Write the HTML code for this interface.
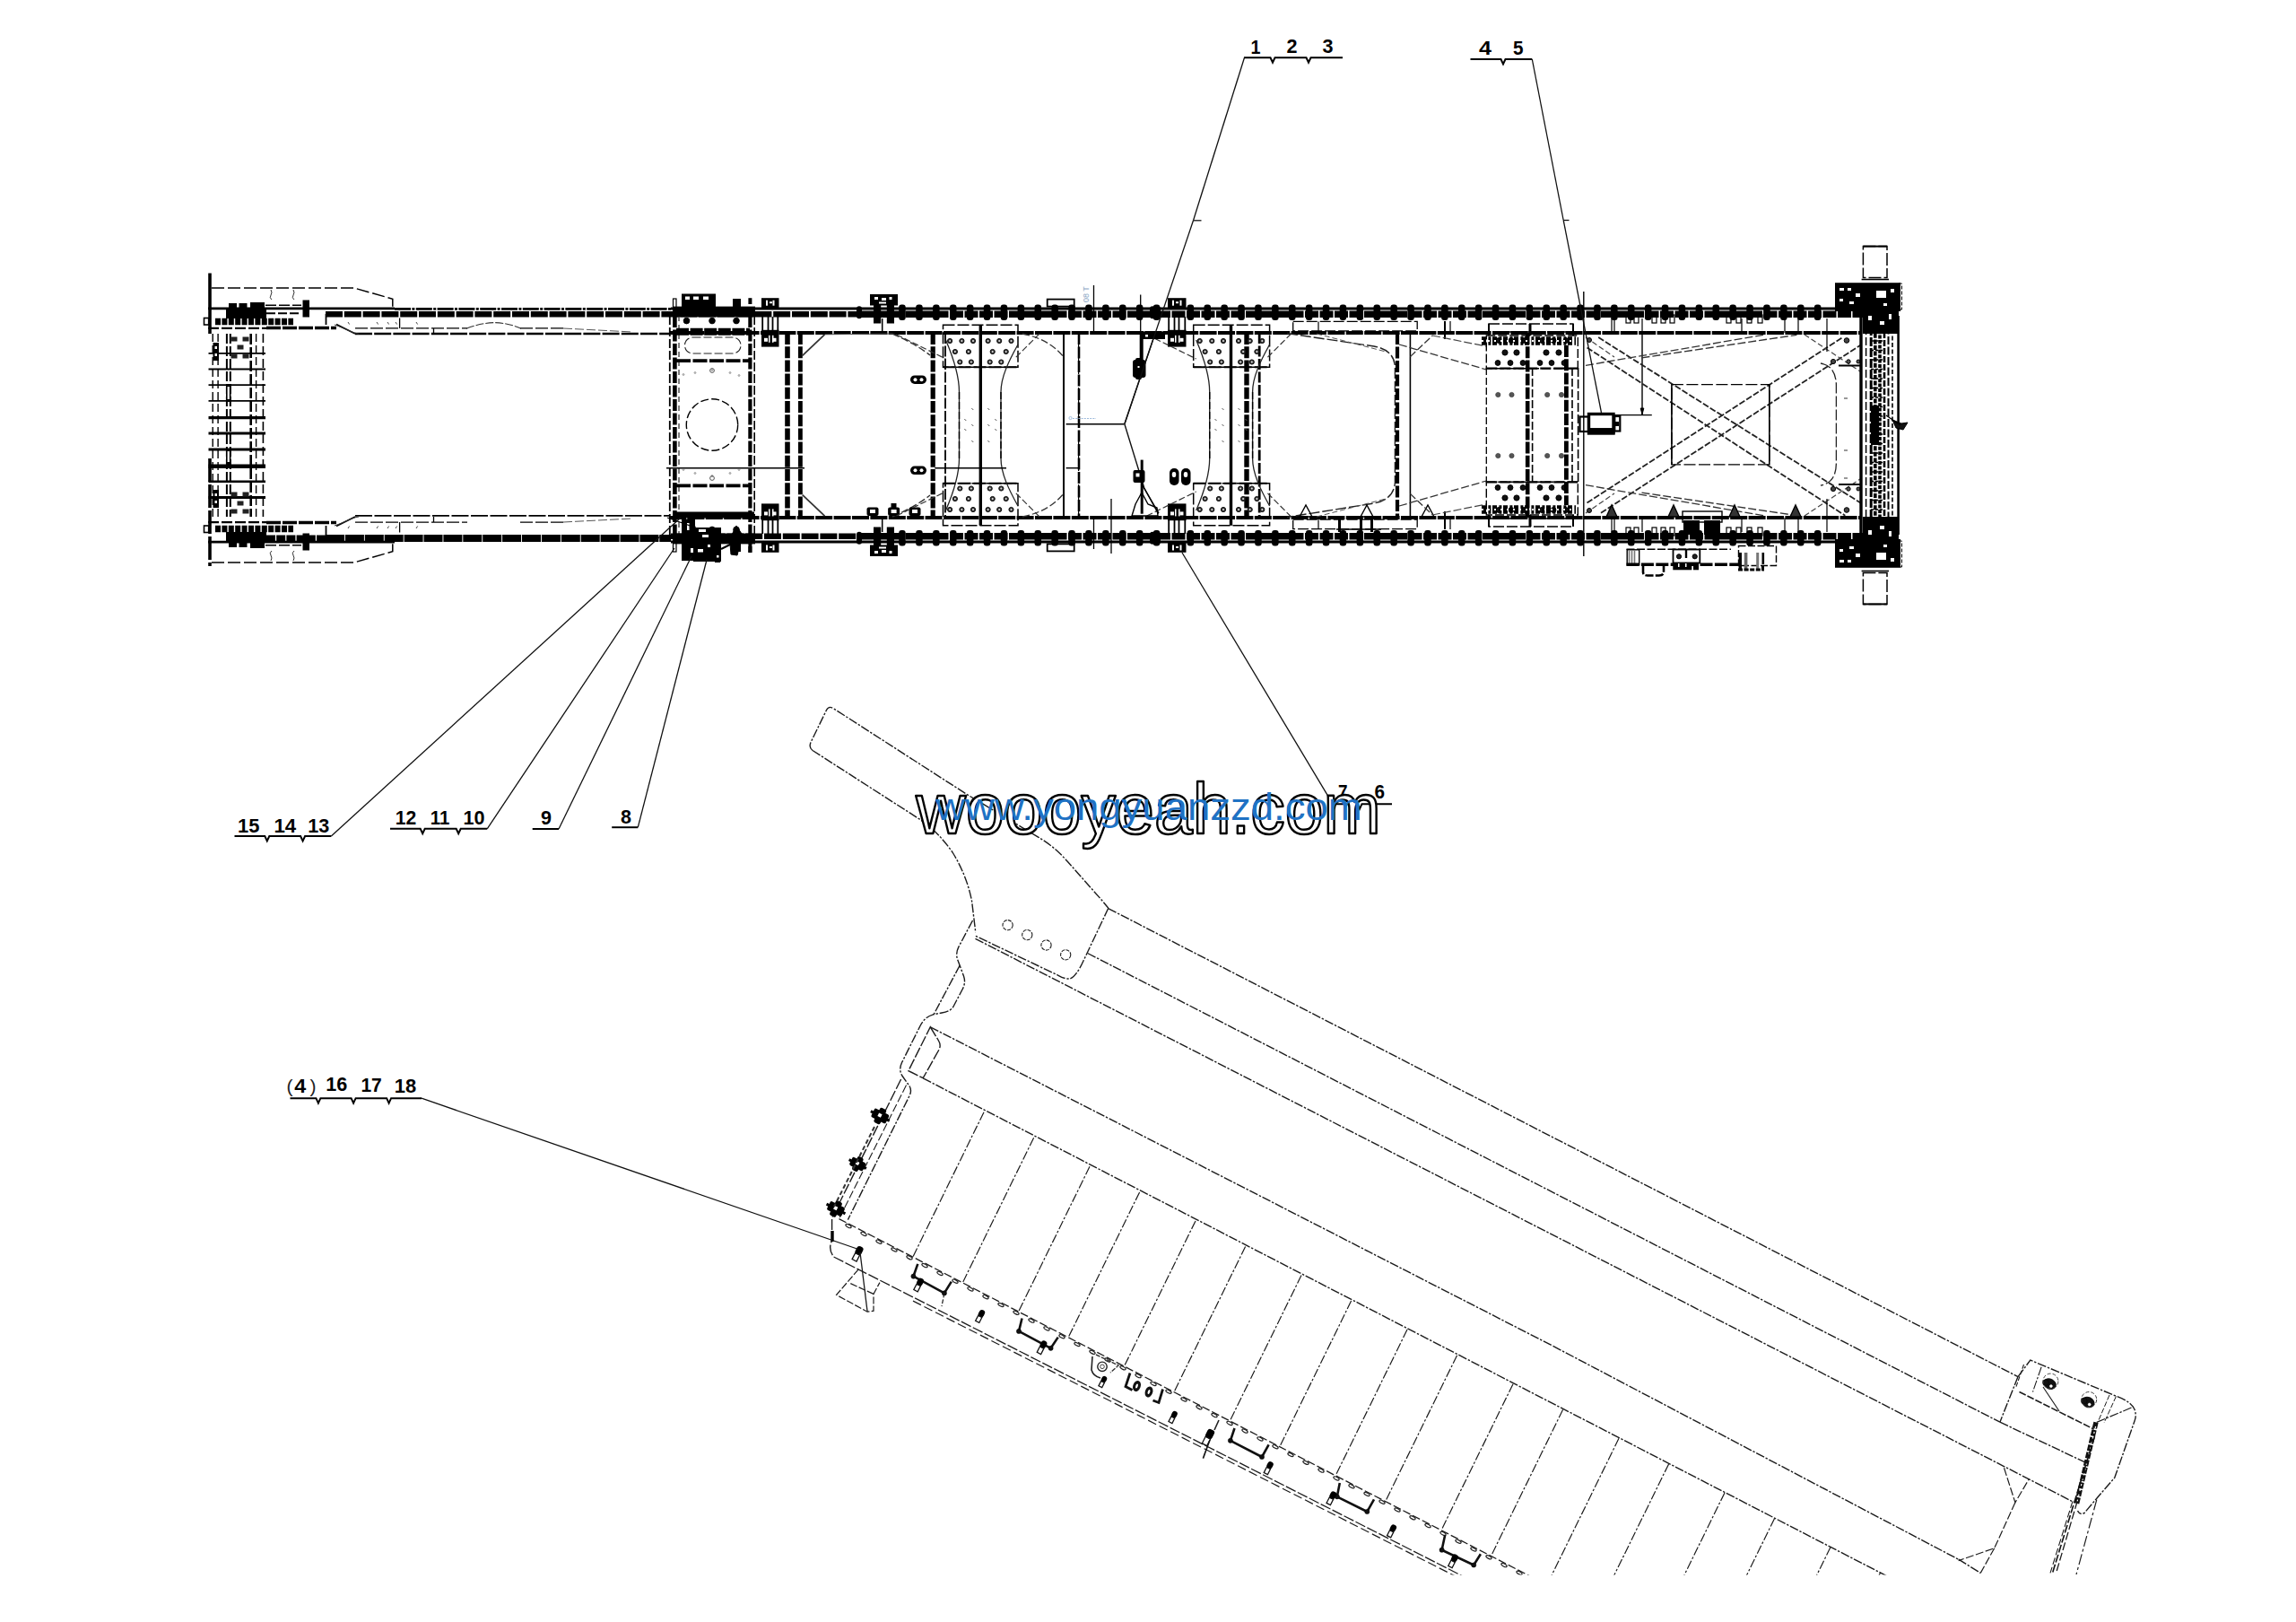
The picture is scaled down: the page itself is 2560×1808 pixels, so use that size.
<!DOCTYPE html>
<html><head><meta charset="utf-8"><title>Frame assembly diagram</title>
<style>
html,body{margin:0;padding:0;background:#fff;}
body{width:2560px;height:1808px;overflow:hidden;font-family:"Liberation Sans",sans-serif;}
svg{display:block;font-family:"Liberation Sans",sans-serif;}
</style></head><body>
<svg width="2560" height="1808" viewBox="0 0 2560 1808">
<rect width="2560" height="1808" fill="#fff"/>
<g id="frame">
<line x1="232.0" y1="343.8" x2="440.0" y2="343.8" stroke="#000" stroke-width="2.8"/>
<line x1="440.0" y1="344.4" x2="748.0" y2="344.4" stroke="#000" stroke-width="2.8" stroke-dasharray="18 1.4 3 1.4"/>
<line x1="748.0" y1="344.1" x2="2085.0" y2="344.1" stroke="#000" stroke-width="3.0"/>
<line x1="363.0" y1="350.3" x2="960.0" y2="350.3" stroke="#000" stroke-width="6.6" stroke-dasharray="19 1.8"/>
<line x1="960.0" y1="350.3" x2="2085.0" y2="350.3" stroke="#000" stroke-width="7.4" stroke-dasharray="15 1.5"/>
<line x1="232.0" y1="604.2" x2="440.0" y2="604.2" stroke="#000" stroke-width="2.8"/>
<line x1="748.0" y1="603.9" x2="2085.0" y2="603.9" stroke="#000" stroke-width="3.0"/>
<line x1="297.0" y1="600.4" x2="363.0" y2="600.4" stroke="#000" stroke-width="7.6" stroke-dasharray="10 1.2"/>
<line x1="363.0" y1="600.0" x2="748.0" y2="600.0" stroke="#000" stroke-width="8.2" stroke-dasharray="21 0.9"/>
<line x1="748.0" y1="597.7" x2="960.0" y2="597.7" stroke="#000" stroke-width="6.6" stroke-dasharray="19 1.8"/>
<line x1="960.0" y1="597.7" x2="2085.0" y2="597.7" stroke="#000" stroke-width="7.4" stroke-dasharray="15 1.5"/>
<line x1="396.0" y1="372.0" x2="746.0" y2="372.0" stroke="#000" stroke-width="2.3" stroke-dasharray="19 2.2"/>
<line x1="746.0" y1="371.0" x2="2076.0" y2="371.0" stroke="#000" stroke-width="3.8" stroke-dasharray="19 1.4"/>
<line x1="396.0" y1="574.8" x2="746.0" y2="574.8" stroke="#000" stroke-width="1.7" stroke-dasharray="19 2.5"/>
<line x1="746.0" y1="577.0" x2="2076.0" y2="577.0" stroke="#000" stroke-width="3.8" stroke-dasharray="19 1.4"/>
<rect x="1002.2" y="339.6" width="7.5" height="17.5" fill="#000" rx="3"/>
<rect x="1002.2" y="591.0" width="7.5" height="17.5" fill="#000" rx="3"/>
<rect x="1021.2" y="339.6" width="7.5" height="17.5" fill="#000" rx="3"/>
<rect x="1021.2" y="591.0" width="7.5" height="17.5" fill="#000" rx="3"/>
<rect x="1040.1" y="339.6" width="7.5" height="17.5" fill="#000" rx="3"/>
<rect x="1040.1" y="591.0" width="7.5" height="17.5" fill="#000" rx="3"/>
<rect x="1059.0" y="339.6" width="7.5" height="17.5" fill="#000" rx="3"/>
<rect x="1059.0" y="591.0" width="7.5" height="17.5" fill="#000" rx="3"/>
<rect x="1077.9" y="339.6" width="7.5" height="17.5" fill="#000" rx="3"/>
<rect x="1077.9" y="591.0" width="7.5" height="17.5" fill="#000" rx="3"/>
<rect x="1096.8" y="339.6" width="7.5" height="17.5" fill="#000" rx="3"/>
<rect x="1096.8" y="591.0" width="7.5" height="17.5" fill="#000" rx="3"/>
<rect x="1115.7" y="339.6" width="7.5" height="17.5" fill="#000" rx="3"/>
<rect x="1115.7" y="591.0" width="7.5" height="17.5" fill="#000" rx="3"/>
<rect x="1134.6" y="339.6" width="7.5" height="17.5" fill="#000" rx="3"/>
<rect x="1134.6" y="591.0" width="7.5" height="17.5" fill="#000" rx="3"/>
<rect x="1153.5" y="339.6" width="7.5" height="17.5" fill="#000" rx="3"/>
<rect x="1153.5" y="591.0" width="7.5" height="17.5" fill="#000" rx="3"/>
<rect x="1172.4" y="339.6" width="7.5" height="17.5" fill="#000" rx="3"/>
<rect x="1172.4" y="591.0" width="7.5" height="17.5" fill="#000" rx="3"/>
<rect x="1191.3" y="339.6" width="7.5" height="17.5" fill="#000" rx="3"/>
<rect x="1191.3" y="591.0" width="7.5" height="17.5" fill="#000" rx="3"/>
<rect x="1210.2" y="339.6" width="7.5" height="17.5" fill="#000" rx="3"/>
<rect x="1210.2" y="591.0" width="7.5" height="17.5" fill="#000" rx="3"/>
<rect x="1229.1" y="339.6" width="7.5" height="17.5" fill="#000" rx="3"/>
<rect x="1229.1" y="591.0" width="7.5" height="17.5" fill="#000" rx="3"/>
<rect x="1248.0" y="339.6" width="7.5" height="17.5" fill="#000" rx="3"/>
<rect x="1248.0" y="591.0" width="7.5" height="17.5" fill="#000" rx="3"/>
<rect x="1266.9" y="339.6" width="7.5" height="17.5" fill="#000" rx="3"/>
<rect x="1266.9" y="591.0" width="7.5" height="17.5" fill="#000" rx="3"/>
<rect x="1285.8" y="339.6" width="7.5" height="17.5" fill="#000" rx="3"/>
<rect x="1285.8" y="591.0" width="7.5" height="17.5" fill="#000" rx="3"/>
<rect x="1323.6" y="339.6" width="7.5" height="17.5" fill="#000" rx="3"/>
<rect x="1323.6" y="591.0" width="7.5" height="17.5" fill="#000" rx="3"/>
<rect x="1342.5" y="339.6" width="7.5" height="17.5" fill="#000" rx="3"/>
<rect x="1342.5" y="591.0" width="7.5" height="17.5" fill="#000" rx="3"/>
<rect x="1361.4" y="339.6" width="7.5" height="17.5" fill="#000" rx="3"/>
<rect x="1361.4" y="591.0" width="7.5" height="17.5" fill="#000" rx="3"/>
<rect x="1380.3" y="339.6" width="7.5" height="17.5" fill="#000" rx="3"/>
<rect x="1380.3" y="591.0" width="7.5" height="17.5" fill="#000" rx="3"/>
<rect x="1399.2" y="339.6" width="7.5" height="17.5" fill="#000" rx="3"/>
<rect x="1399.2" y="591.0" width="7.5" height="17.5" fill="#000" rx="3"/>
<rect x="1418.1" y="339.6" width="7.5" height="17.5" fill="#000" rx="3"/>
<rect x="1418.1" y="591.0" width="7.5" height="17.5" fill="#000" rx="3"/>
<rect x="1437.0" y="339.6" width="7.5" height="17.5" fill="#000" rx="3"/>
<rect x="1437.0" y="591.0" width="7.5" height="17.5" fill="#000" rx="3"/>
<rect x="1455.9" y="339.6" width="7.5" height="17.5" fill="#000" rx="3"/>
<rect x="1455.9" y="591.0" width="7.5" height="17.5" fill="#000" rx="3"/>
<rect x="1474.8" y="339.6" width="7.5" height="17.5" fill="#000" rx="3"/>
<rect x="1474.8" y="591.0" width="7.5" height="17.5" fill="#000" rx="3"/>
<rect x="1493.7" y="339.6" width="7.5" height="17.5" fill="#000" rx="3"/>
<rect x="1493.7" y="591.0" width="7.5" height="17.5" fill="#000" rx="3"/>
<rect x="1512.6" y="339.6" width="7.5" height="17.5" fill="#000" rx="3"/>
<rect x="1512.6" y="591.0" width="7.5" height="17.5" fill="#000" rx="3"/>
<rect x="1531.5" y="339.6" width="7.5" height="17.5" fill="#000" rx="3"/>
<rect x="1531.5" y="591.0" width="7.5" height="17.5" fill="#000" rx="3"/>
<rect x="1550.4" y="339.6" width="7.5" height="17.5" fill="#000" rx="3"/>
<rect x="1550.4" y="591.0" width="7.5" height="17.5" fill="#000" rx="3"/>
<rect x="1569.3" y="339.6" width="7.5" height="17.5" fill="#000" rx="3"/>
<rect x="1569.3" y="591.0" width="7.5" height="17.5" fill="#000" rx="3"/>
<rect x="1588.2" y="339.6" width="7.5" height="17.5" fill="#000" rx="3"/>
<rect x="1588.2" y="591.0" width="7.5" height="17.5" fill="#000" rx="3"/>
<rect x="1607.1" y="339.6" width="7.5" height="17.5" fill="#000" rx="3"/>
<rect x="1607.1" y="591.0" width="7.5" height="17.5" fill="#000" rx="3"/>
<rect x="1626.0" y="339.6" width="7.5" height="17.5" fill="#000" rx="3"/>
<rect x="1626.0" y="591.0" width="7.5" height="17.5" fill="#000" rx="3"/>
<rect x="1644.9" y="339.6" width="7.5" height="17.5" fill="#000" rx="3"/>
<rect x="1644.9" y="591.0" width="7.5" height="17.5" fill="#000" rx="3"/>
<rect x="1663.8" y="339.6" width="7.5" height="17.5" fill="#000" rx="3"/>
<rect x="1663.8" y="591.0" width="7.5" height="17.5" fill="#000" rx="3"/>
<rect x="1682.7" y="339.6" width="7.5" height="17.5" fill="#000" rx="3"/>
<rect x="1682.7" y="591.0" width="7.5" height="17.5" fill="#000" rx="3"/>
<rect x="1701.6" y="339.6" width="7.5" height="17.5" fill="#000" rx="3"/>
<rect x="1701.6" y="591.0" width="7.5" height="17.5" fill="#000" rx="3"/>
<rect x="1720.5" y="339.6" width="7.5" height="17.5" fill="#000" rx="3"/>
<rect x="1720.5" y="591.0" width="7.5" height="17.5" fill="#000" rx="3"/>
<rect x="1739.4" y="339.6" width="7.5" height="17.5" fill="#000" rx="3"/>
<rect x="1739.4" y="591.0" width="7.5" height="17.5" fill="#000" rx="3"/>
<rect x="1758.3" y="339.6" width="7.5" height="17.5" fill="#000" rx="3"/>
<rect x="1758.3" y="591.0" width="7.5" height="17.5" fill="#000" rx="3"/>
<rect x="1777.2" y="339.6" width="7.5" height="17.5" fill="#000" rx="3"/>
<rect x="1777.2" y="591.0" width="7.5" height="17.5" fill="#000" rx="3"/>
<rect x="1796.1" y="339.6" width="7.5" height="17.5" fill="#000" rx="3"/>
<rect x="1796.1" y="591.0" width="7.5" height="17.5" fill="#000" rx="3"/>
<rect x="1815.0" y="339.6" width="7.5" height="17.5" fill="#000" rx="3"/>
<rect x="1815.0" y="591.0" width="7.5" height="17.5" fill="#000" rx="3"/>
<rect x="1833.9" y="339.6" width="7.5" height="17.5" fill="#000" rx="3"/>
<rect x="1833.9" y="591.0" width="7.5" height="17.5" fill="#000" rx="3"/>
<rect x="1852.8" y="339.6" width="7.5" height="17.5" fill="#000" rx="3"/>
<rect x="1852.8" y="591.0" width="7.5" height="17.5" fill="#000" rx="3"/>
<rect x="1871.7" y="339.6" width="7.5" height="17.5" fill="#000" rx="3"/>
<rect x="1871.7" y="591.0" width="7.5" height="17.5" fill="#000" rx="3"/>
<rect x="1890.6" y="339.6" width="7.5" height="17.5" fill="#000" rx="3"/>
<rect x="1890.6" y="591.0" width="7.5" height="17.5" fill="#000" rx="3"/>
<rect x="1909.5" y="339.6" width="7.5" height="17.5" fill="#000" rx="3"/>
<rect x="1909.5" y="591.0" width="7.5" height="17.5" fill="#000" rx="3"/>
<rect x="1928.4" y="339.6" width="7.5" height="17.5" fill="#000" rx="3"/>
<rect x="1928.4" y="591.0" width="7.5" height="17.5" fill="#000" rx="3"/>
<rect x="1947.3" y="339.6" width="7.5" height="17.5" fill="#000" rx="3"/>
<rect x="1947.3" y="591.0" width="7.5" height="17.5" fill="#000" rx="3"/>
<rect x="1966.2" y="339.6" width="7.5" height="17.5" fill="#000" rx="3"/>
<rect x="1966.2" y="591.0" width="7.5" height="17.5" fill="#000" rx="3"/>
<rect x="1985.1" y="339.6" width="7.5" height="17.5" fill="#000" rx="3"/>
<rect x="1985.1" y="591.0" width="7.5" height="17.5" fill="#000" rx="3"/>
<rect x="2004.0" y="339.6" width="7.5" height="17.5" fill="#000" rx="3"/>
<rect x="2004.0" y="591.0" width="7.5" height="17.5" fill="#000" rx="3"/>
<rect x="2022.9" y="339.6" width="7.5" height="17.5" fill="#000" rx="3"/>
<rect x="2022.9" y="591.0" width="7.5" height="17.5" fill="#000" rx="3"/>
<rect x="955.0" y="341.3" width="6.0" height="14.0" fill="#000" rx="3"/>
<rect x="955.0" y="592.7" width="6.0" height="14.0" fill="#000" rx="3"/>
<rect x="1288.0" y="341.3" width="6.0" height="14.0" fill="#000" rx="3"/>
<rect x="1288.0" y="592.7" width="6.0" height="14.0" fill="#000" rx="3"/>
<rect x="1282.0" y="341.3" width="6.0" height="14.0" fill="#000" rx="3"/>
<rect x="1282.0" y="592.7" width="6.0" height="14.0" fill="#000" rx="3"/>
<line x1="234.0" y1="304.5" x2="234.0" y2="372.0" stroke="#000" stroke-width="3.6"/>
<line x1="234.0" y1="511.0" x2="234.0" y2="631.0" stroke="#000" stroke-width="3.6" stroke-dasharray="26 3"/>
<path d="M236,321 L394.7,321 L437.8,333.2 L437.8,343" stroke="#000" stroke-width="1.5" fill="none" stroke-dasharray="14 4"/>
<path d="M236,627.0 L394.7,627.0 L437.8,614.8 L437.8,605.0" stroke="#000" stroke-width="1.5" fill="none" stroke-dasharray="14 4"/>
<line x1="297.0" y1="349.3" x2="336.0" y2="349.3" stroke="#000" stroke-width="2.0" stroke-dasharray="10 3"/>
<path d="M302,323 q2,3 0,6 q-2,3 1,5" stroke="#333" stroke-width="1.0" fill="none"/>
<path d="M302,625.0 q2,-3 0,-6 q-2,-3 1,-5" stroke="#333" stroke-width="1.0" fill="none"/>
<path d="M327,323 q2,3 0,6 q-2,3 1,5" stroke="#333" stroke-width="1.0" fill="none"/>
<path d="M327,625.0 q2,-3 0,-6 q-2,-3 1,-5" stroke="#333" stroke-width="1.0" fill="none"/>
<rect x="252.0" y="345.0" width="45.0" height="10.0" fill="#000"/>
<rect x="255.0" y="338.0" width="9.0" height="8.0" fill="#000"/>
<rect x="266.5" y="338.0" width="9.0" height="8.0" fill="#000"/>
<rect x="279.0" y="337.0" width="16.0" height="9.0" fill="#000"/>
<rect x="337.5" y="334.5" width="7.5" height="19.0" fill="#000"/>
<rect x="227.5" y="354.5" width="5.2" height="7.5" stroke="#000" stroke-width="1.6" fill="none"/>
<line x1="240.0" y1="358.4" x2="327.0" y2="358.4" stroke="#000" stroke-width="7.5" stroke-dasharray="6 1.4"/>
<line x1="232.0" y1="365.8" x2="297.0" y2="365.8" stroke="#000" stroke-width="2.2" stroke-dasharray="12 3"/>
<line x1="297.0" y1="365.5" x2="375.0" y2="365.5" stroke="#000" stroke-width="3.4" stroke-dasharray="16 2"/>
<line x1="375.0" y1="361.5" x2="396.0" y2="372.0" stroke="#000" stroke-width="1.6"/>
<line x1="363.5" y1="350.0" x2="363.5" y2="362.0" stroke="#000" stroke-width="1.8"/>
<line x1="296.0" y1="340.3" x2="336.0" y2="340.3" stroke="#000" stroke-width="1.6" stroke-dasharray="12 3"/>
<line x1="396.0" y1="365.9" x2="521.0" y2="365.9" stroke="#000" stroke-width="1.4" stroke-dasharray="14 3"/>
<line x1="580.0" y1="365.9" x2="630.0" y2="365.9" stroke="#000" stroke-width="1.4" stroke-dasharray="14 3"/>
<line x1="445.6" y1="354.5" x2="445.6" y2="366.0" stroke="#000" stroke-width="1.3"/>
<line x1="483.5" y1="366.0" x2="483.5" y2="372.0" stroke="#000" stroke-width="1.3"/>
<line x1="388.0" y1="359.0" x2="389.6" y2="361.5" stroke="#444" stroke-width="1.0"/>
<line x1="420.0" y1="359.0" x2="421.6" y2="361.5" stroke="#444" stroke-width="1.0"/>
<line x1="432.0" y1="359.0" x2="433.6" y2="361.5" stroke="#444" stroke-width="1.0"/>
<line x1="441.0" y1="359.0" x2="442.6" y2="361.5" stroke="#444" stroke-width="1.0"/>
<line x1="464.0" y1="359.0" x2="465.6" y2="361.5" stroke="#444" stroke-width="1.0"/>
<rect x="252.0" y="593.0" width="45.0" height="10.0" fill="#000"/>
<rect x="255.0" y="602.0" width="9.0" height="8.0" fill="#000"/>
<rect x="266.5" y="602.0" width="9.0" height="8.0" fill="#000"/>
<rect x="279.0" y="602.0" width="16.0" height="9.0" fill="#000"/>
<rect x="337.5" y="594.5" width="7.5" height="19.0" fill="#000"/>
<rect x="227.5" y="586.0" width="5.2" height="7.5" stroke="#000" stroke-width="1.6" fill="none"/>
<line x1="240.0" y1="589.6" x2="327.0" y2="589.6" stroke="#000" stroke-width="7.5" stroke-dasharray="6 1.4"/>
<line x1="232.0" y1="582.2" x2="297.0" y2="582.2" stroke="#000" stroke-width="2.2" stroke-dasharray="12 3"/>
<line x1="297.0" y1="582.5" x2="375.0" y2="582.5" stroke="#000" stroke-width="3.4" stroke-dasharray="16 2"/>
<line x1="375.0" y1="586.5" x2="396.0" y2="576.0" stroke="#000" stroke-width="1.6"/>
<line x1="363.5" y1="598.0" x2="363.5" y2="586.0" stroke="#000" stroke-width="1.8"/>
<line x1="296.0" y1="607.7" x2="336.0" y2="607.7" stroke="#000" stroke-width="1.6" stroke-dasharray="12 3"/>
<line x1="396.0" y1="582.1" x2="521.0" y2="582.1" stroke="#000" stroke-width="1.4" stroke-dasharray="14 3"/>
<line x1="580.0" y1="582.1" x2="630.0" y2="582.1" stroke="#000" stroke-width="1.4" stroke-dasharray="14 3"/>
<line x1="445.6" y1="593.5" x2="445.6" y2="582.0" stroke="#000" stroke-width="1.3"/>
<line x1="483.5" y1="582.0" x2="483.5" y2="576.0" stroke="#000" stroke-width="1.3"/>
<line x1="388.0" y1="589.0" x2="389.6" y2="586.5" stroke="#444" stroke-width="1.0"/>
<line x1="420.0" y1="589.0" x2="421.6" y2="586.5" stroke="#444" stroke-width="1.0"/>
<line x1="432.0" y1="589.0" x2="433.6" y2="586.5" stroke="#444" stroke-width="1.0"/>
<line x1="441.0" y1="589.0" x2="442.6" y2="586.5" stroke="#444" stroke-width="1.0"/>
<line x1="464.0" y1="589.0" x2="465.6" y2="586.5" stroke="#444" stroke-width="1.0"/>
<path d="M373,362 C385,366 392,371 400,372" stroke="#333" stroke-width="1.0" fill="none"/>
<path d="M520,366.2 Q536,360 551.5,359.6 Q567,360 581,366.2" stroke="#333" stroke-width="1.1" fill="none" stroke-dasharray="9 2"/>
<path d="M628,366 L705,370" stroke="#555" stroke-width="1.0" fill="none" stroke-dasharray="10 3"/>
<path d="M373,586.0 C385,582.0 392,577.0 400,576.0" stroke="#333" stroke-width="1.0" fill="none"/>
<path d="M628,582.0 L705,578.0" stroke="#555" stroke-width="1.0" fill="none" stroke-dasharray="10 3"/>
<line x1="237.2" y1="372.0" x2="237.2" y2="576.0" stroke="#000" stroke-width="1.4" stroke-dasharray="9 4"/>
<line x1="243.1" y1="372.0" x2="243.1" y2="576.0" stroke="#000" stroke-width="1.4" stroke-dasharray="9 4"/>
<line x1="252.9" y1="372.0" x2="252.9" y2="576.0" stroke="#000" stroke-width="2.0" stroke-dasharray="11 3"/>
<line x1="256.8" y1="372.0" x2="256.8" y2="576.0" stroke="#000" stroke-width="2.0" stroke-dasharray="11 3"/>
<line x1="279.7" y1="372.0" x2="279.7" y2="576.0" stroke="#000" stroke-width="2.6" stroke-dasharray="12 3"/>
<line x1="285.6" y1="372.0" x2="285.6" y2="576.0" stroke="#000" stroke-width="1.4" stroke-dasharray="9 4"/>
<line x1="293.4" y1="372.0" x2="293.4" y2="576.0" stroke="#000" stroke-width="1.6" stroke-dasharray="10 4"/>
<line x1="232.5" y1="393.9" x2="296.0" y2="393.9" stroke="#000" stroke-width="1.6"/>
<line x1="232.5" y1="411.5" x2="296.0" y2="411.5" stroke="#000" stroke-width="2.2"/>
<line x1="232.5" y1="429.2" x2="296.0" y2="429.2" stroke="#000" stroke-width="1.8"/>
<line x1="232.5" y1="446.8" x2="296.0" y2="446.8" stroke="#000" stroke-width="1.8"/>
<line x1="232.5" y1="465.6" x2="296.0" y2="465.6" stroke="#000" stroke-width="3.2"/>
<line x1="232.5" y1="483.0" x2="296.0" y2="483.0" stroke="#000" stroke-width="3.2"/>
<line x1="232.5" y1="501.0" x2="296.0" y2="501.0" stroke="#000" stroke-width="3.2"/>
<line x1="232.5" y1="519.8" x2="296.0" y2="519.8" stroke="#000" stroke-width="4.6"/>
<line x1="232.5" y1="536.8" x2="296.0" y2="536.8" stroke="#000" stroke-width="2.6"/>
<line x1="232.5" y1="554.5" x2="296.0" y2="554.5" stroke="#000" stroke-width="2.8"/>
<rect x="237.5" y="382.0" width="6.5" height="20.0" fill="#000"/>
<rect x="239.5" y="386.0" width="2.5" height="3.0" fill="#fff"/>
<rect x="239.5" y="394.0" width="2.5" height="3.0" fill="#fff"/>
<rect x="257.5" y="375.5" width="7.0" height="5.0" fill="#222"/>
<rect x="270.5" y="375.5" width="7.0" height="5.0" fill="#222"/>
<rect x="264.5" y="384.5" width="7.0" height="5.0" fill="#222"/>
<rect x="257.5" y="394.5" width="7.0" height="5.0" fill="#222"/>
<rect x="270.5" y="394.5" width="7.0" height="5.0" fill="#222"/>
<rect x="237.5" y="546.0" width="6.5" height="20.0" fill="#000"/>
<rect x="239.5" y="550.0" width="2.5" height="3.0" fill="#fff"/>
<rect x="239.5" y="558.0" width="2.5" height="3.0" fill="#fff"/>
<rect x="257.5" y="567.5" width="7.0" height="5.0" fill="#222"/>
<rect x="270.5" y="567.5" width="7.0" height="5.0" fill="#222"/>
<rect x="264.5" y="558.5" width="7.0" height="5.0" fill="#222"/>
<rect x="257.5" y="548.5" width="7.0" height="5.0" fill="#222"/>
<rect x="270.5" y="548.5" width="7.0" height="5.0" fill="#222"/>
<rect x="252.0" y="428.0" width="5.5" height="20.0" fill="#000"/>
<rect x="253.6" y="431.0" width="2.2" height="14.0" fill="#fff"/>
<rect x="252.0" y="500.0" width="5.5" height="18.0" fill="#000"/>
<rect x="253.6" y="503.0" width="2.2" height="12.0" fill="#fff"/>
<line x1="746.8" y1="352.0" x2="746.8" y2="596.0" stroke="#000" stroke-width="1.8" stroke-dasharray="10 3"/>
<line x1="752.4" y1="352.0" x2="752.4" y2="596.0" stroke="#000" stroke-width="4.6" stroke-dasharray="13 2.5"/>
<line x1="757.0" y1="352.0" x2="757.0" y2="596.0" stroke="#000" stroke-width="1.0" stroke-dasharray="6 4"/>
<line x1="836.4" y1="352.0" x2="836.4" y2="596.0" stroke="#000" stroke-width="4.2" stroke-dasharray="13 2.5"/>
<line x1="841.2" y1="352.0" x2="841.2" y2="596.0" stroke="#000" stroke-width="1.6" stroke-dasharray="10 3"/>
<line x1="754.0" y1="369.8" x2="836.0" y2="369.8" stroke="#000" stroke-width="8.0" stroke-dasharray="14 1.6"/>
<line x1="754.0" y1="402.2" x2="836.0" y2="402.2" stroke="#000" stroke-width="3.8" stroke-dasharray="16 2.5"/>
<line x1="743.0" y1="521.7" x2="897.0" y2="521.7" stroke="#000" stroke-width="1.5"/>
<line x1="754.0" y1="541.3" x2="836.0" y2="541.3" stroke="#000" stroke-width="3.8" stroke-dasharray="16 2.5"/>
<line x1="750.0" y1="574.0" x2="841.0" y2="574.0" stroke="#000" stroke-width="7.0"/>
<rect x="763.5" y="376.0" width="62.5" height="18.0" stroke="#222" stroke-width="1.1" fill="none" stroke-dasharray="9 3" rx="9"/>
<circle cx="794.0" cy="473.5" r="28.7" stroke="#000" stroke-width="1.4" fill="none" stroke-dasharray="9 3.2"/>
<circle cx="775.0" cy="415.5" r="0.9" stroke="#777" stroke-width="0.8" fill="none"/>
<circle cx="814.0" cy="415.5" r="0.9" stroke="#777" stroke-width="0.8" fill="none"/>
<circle cx="794.0" cy="412.5" r="0.9" stroke="#777" stroke-width="0.8" fill="none"/>
<circle cx="762.0" cy="417.5" r="0.9" stroke="#777" stroke-width="0.8" fill="none"/>
<circle cx="824.0" cy="418.5" r="0.9" stroke="#777" stroke-width="0.8" fill="none"/>
<circle cx="775.0" cy="527.5" r="0.9" stroke="#777" stroke-width="0.8" fill="none"/>
<circle cx="814.0" cy="527.5" r="0.9" stroke="#777" stroke-width="0.8" fill="none"/>
<circle cx="794.0" cy="530.5" r="0.9" stroke="#777" stroke-width="0.8" fill="none"/>
<circle cx="762.0" cy="523.5" r="0.9" stroke="#777" stroke-width="0.8" fill="none"/>
<circle cx="824.0" cy="523.5" r="0.9" stroke="#777" stroke-width="0.8" fill="none"/>
<circle cx="794.0" cy="413.0" r="2.4" stroke="#555" stroke-width="1.0" fill="none"/>
<circle cx="794.0" cy="533.0" r="2.4" stroke="#555" stroke-width="1.0" fill="none"/>
<rect x="750.0" y="341.6" width="92.0" height="11.8" fill="#000"/>
<rect x="760.0" y="327.5" width="38.0" height="14.5" fill="#000"/>
<rect x="764.0" y="330.5" width="5.0" height="3.5" fill="#fff"/>
<rect x="773.0" y="330.5" width="6.0" height="3.5" fill="#fff"/>
<rect x="784.0" y="330.5" width="6.0" height="3.5" fill="#fff"/>
<rect x="817.0" y="333.0" width="9.0" height="9.0" fill="#000"/>
<circle cx="765.5" cy="357.6" r="3.3" stroke="#000" stroke-width="1" fill="#000"/>
<circle cx="794.0" cy="357.6" r="3.3" stroke="#000" stroke-width="1" fill="#000"/>
<circle cx="821.0" cy="357.6" r="3.3" stroke="#000" stroke-width="1" fill="#000"/>
<rect x="750.5" y="333.0" width="3.5" height="10.0" stroke="#000" stroke-width="1.2" fill="none"/>
<rect x="834.4" y="332.2" width="4.0" height="6.8" fill="#000"/>
<rect x="750.0" y="594.6" width="92.0" height="11.8" fill="#000"/>
<rect x="760.0" y="606.0" width="38.0" height="14.5" fill="#000"/>
<rect x="764.0" y="614.0" width="5.0" height="3.5" fill="#fff"/>
<rect x="773.0" y="614.0" width="6.0" height="3.5" fill="#fff"/>
<rect x="784.0" y="614.0" width="6.0" height="3.5" fill="#fff"/>
<rect x="817.0" y="606.0" width="9.0" height="9.0" fill="#000"/>
<circle cx="765.5" cy="590.4" r="3.3" stroke="#000" stroke-width="1" fill="#000"/>
<circle cx="794.0" cy="590.4" r="3.3" stroke="#000" stroke-width="1" fill="#000"/>
<circle cx="821.0" cy="590.4" r="3.3" stroke="#000" stroke-width="1" fill="#000"/>
<rect x="750.5" y="605.0" width="3.5" height="10.0" stroke="#000" stroke-width="1.2" fill="none"/>
<rect x="834.4" y="609.0" width="4.0" height="6.8" fill="#000"/>
<rect x="760.0" y="579.0" width="15.0" height="46.0" fill="#000"/>
<rect x="773.0" y="588.0" width="31.0" height="38.0" fill="#000"/>
<rect x="797.0" y="620.0" width="6.0" height="7.0" fill="#000"/>
<path d="M763,579 L772,579 L776,590 L763,596 Z" stroke="#000" stroke-width="1.0" fill="#000"/>
<rect x="766.0" y="583.0" width="2.5" height="8.0" fill="#fff"/>
<rect x="779.0" y="590.0" width="8.0" height="3.0" fill="#fff"/>
<rect x="783.0" y="596.0" width="7.0" height="3.0" fill="#fff"/>
<rect x="770.0" y="611.0" width="3.0" height="5.0" fill="#fff"/>
<rect x="778.0" y="612.0" width="6.0" height="3.5" fill="#fff"/>
<rect x="789.0" y="607.0" width="3.0" height="3.0" fill="#fff"/>
<rect x="799.0" y="619.0" width="2.5" height="2.5" fill="#fff"/>
<rect x="775.0" y="580.5" width="5.0" height="4.0" fill="#fff"/>
<path d="M821,586 L829,598 L825,607 L822,619 L815,618 L814,606 L816,596 Z" stroke="#000" stroke-width="1.0" fill="#000"/>
<line x1="804.0" y1="612.0" x2="816.0" y2="606.0" stroke="#000" stroke-width="2.0"/>
<rect x="834.4" y="604.0" width="4.0" height="12.0" fill="#000"/>
<line x1="744.0" y1="577.0" x2="775.0" y2="588.0" stroke="#000" stroke-width="1.2"/>
<rect x="849.0" y="332.2" width="19.5" height="10.8" fill="#000"/>
<rect x="854.0" y="334.7" width="2.0" height="6.0" fill="#fff"/>
<rect x="861.5" y="334.7" width="2.0" height="6.0" fill="#fff"/>
<rect x="858.0" y="336.2" width="3.0" height="2.0" fill="#fff"/>
<line x1="850.2" y1="353.0" x2="850.2" y2="369.0" stroke="#000" stroke-width="1.8"/>
<line x1="856.5" y1="353.0" x2="856.5" y2="369.0" stroke="#000" stroke-width="1.8"/>
<line x1="861.5" y1="353.0" x2="861.5" y2="369.0" stroke="#000" stroke-width="1.8"/>
<line x1="867.3" y1="353.0" x2="867.3" y2="369.0" stroke="#000" stroke-width="1.8"/>
<rect x="849.0" y="367.8" width="19.5" height="18.8" fill="#000"/>
<rect x="852.0" y="376.8" width="4.0" height="4.0" fill="#fff"/>
<rect x="861.5" y="376.8" width="4.0" height="4.0" fill="#fff"/>
<rect x="857.0" y="373.8" width="1.5" height="8.0" fill="#fff"/>
<rect x="861.0" y="373.8" width="1.5" height="8.0" fill="#fff"/>
<rect x="849.0" y="605.0" width="19.5" height="10.8" fill="#000"/>
<rect x="854.0" y="607.5" width="2.0" height="6.0" fill="#fff"/>
<rect x="861.5" y="607.5" width="2.0" height="6.0" fill="#fff"/>
<rect x="858.0" y="609.0" width="3.0" height="2.0" fill="#fff"/>
<line x1="850.2" y1="595.0" x2="850.2" y2="579.0" stroke="#000" stroke-width="1.8"/>
<line x1="856.5" y1="595.0" x2="856.5" y2="579.0" stroke="#000" stroke-width="1.8"/>
<line x1="861.5" y1="595.0" x2="861.5" y2="579.0" stroke="#000" stroke-width="1.8"/>
<line x1="867.3" y1="595.0" x2="867.3" y2="579.0" stroke="#000" stroke-width="1.8"/>
<rect x="849.0" y="561.4" width="19.5" height="18.8" fill="#000"/>
<rect x="852.0" y="570.4" width="4.0" height="4.0" fill="#fff"/>
<rect x="861.5" y="570.4" width="4.0" height="4.0" fill="#fff"/>
<rect x="857.0" y="567.4" width="1.5" height="8.0" fill="#fff"/>
<rect x="861.0" y="567.4" width="1.5" height="8.0" fill="#fff"/>
<rect x="1302.0" y="332.2" width="20.5" height="10.8" fill="#000"/>
<rect x="1307.0" y="334.7" width="2.0" height="6.0" fill="#fff"/>
<rect x="1315.5" y="334.7" width="2.0" height="6.0" fill="#fff"/>
<rect x="1311.0" y="336.2" width="3.0" height="2.0" fill="#fff"/>
<line x1="1303.2" y1="353.0" x2="1303.2" y2="369.0" stroke="#000" stroke-width="1.8"/>
<line x1="1309.5" y1="353.0" x2="1309.5" y2="369.0" stroke="#000" stroke-width="1.8"/>
<line x1="1314.5" y1="353.0" x2="1314.5" y2="369.0" stroke="#000" stroke-width="1.8"/>
<line x1="1321.3" y1="353.0" x2="1321.3" y2="369.0" stroke="#000" stroke-width="1.8"/>
<rect x="1302.0" y="367.8" width="20.5" height="18.8" fill="#000"/>
<rect x="1305.0" y="376.8" width="4.0" height="4.0" fill="#fff"/>
<rect x="1315.5" y="376.8" width="4.0" height="4.0" fill="#fff"/>
<rect x="1310.0" y="373.8" width="1.5" height="8.0" fill="#fff"/>
<rect x="1314.0" y="373.8" width="1.5" height="8.0" fill="#fff"/>
<rect x="1302.0" y="605.0" width="20.5" height="10.8" fill="#000"/>
<rect x="1307.0" y="607.5" width="2.0" height="6.0" fill="#fff"/>
<rect x="1315.5" y="607.5" width="2.0" height="6.0" fill="#fff"/>
<rect x="1311.0" y="609.0" width="3.0" height="2.0" fill="#fff"/>
<line x1="1303.2" y1="595.0" x2="1303.2" y2="579.0" stroke="#000" stroke-width="1.8"/>
<line x1="1309.5" y1="595.0" x2="1309.5" y2="579.0" stroke="#000" stroke-width="1.8"/>
<line x1="1314.5" y1="595.0" x2="1314.5" y2="579.0" stroke="#000" stroke-width="1.8"/>
<line x1="1321.3" y1="595.0" x2="1321.3" y2="579.0" stroke="#000" stroke-width="1.8"/>
<rect x="1302.0" y="561.4" width="20.5" height="18.8" fill="#000"/>
<rect x="1305.0" y="570.4" width="4.0" height="4.0" fill="#fff"/>
<rect x="1315.5" y="570.4" width="4.0" height="4.0" fill="#fff"/>
<rect x="1310.0" y="567.4" width="1.5" height="8.0" fill="#fff"/>
<rect x="1314.0" y="567.4" width="1.5" height="8.0" fill="#fff"/>
<line x1="878.0" y1="371.0" x2="878.0" y2="577.0" stroke="#000" stroke-width="5.6" stroke-dasharray="13 2.2"/>
<line x1="892.4" y1="371.0" x2="892.4" y2="577.0" stroke="#000" stroke-width="4.8" stroke-dasharray="13 2.2"/>
<line x1="894.7" y1="396.3" x2="919.5" y2="372.8" stroke="#333" stroke-width="1.8"/>
<line x1="894.7" y1="551.7" x2="919.5" y2="575.2" stroke="#333" stroke-width="1.8"/>
<path d="M995,372 Q1022,384 1037,396" stroke="#333" stroke-width="1.4" fill="none" stroke-dasharray="8 3"/>
<path d="M995,576 Q1022,564 1037,552" stroke="#333" stroke-width="1.4" fill="none" stroke-dasharray="8 3"/>
<path d="M919.5,372.8 L995,372" stroke="#555" stroke-width="1.0" fill="none"/>
<rect x="1015.0" y="418.4" width="18.0" height="9.6" fill="#000" rx="4.8"/>
<rect x="1018.5" y="421.2" width="4.0" height="4.0" fill="#fff" rx="2"/>
<rect x="1025.5" y="421.2" width="4.0" height="4.0" fill="#fff" rx="2"/>
<rect x="1015.0" y="519.5" width="18.0" height="9.6" fill="#000" rx="4.8"/>
<rect x="1018.5" y="522.3" width="4.0" height="4.0" fill="#fff" rx="2"/>
<rect x="1025.5" y="522.3" width="4.0" height="4.0" fill="#fff" rx="2"/>
<rect x="966.5" y="565.5" width="13.0" height="9.5" fill="#000" rx="2"/>
<rect x="970.0" y="568.0" width="6.0" height="4.0" fill="#fff"/>
<rect x="990.1" y="565.5" width="13.0" height="9.5" fill="#000" rx="2"/>
<rect x="993.6" y="568.0" width="6.0" height="4.0" fill="#fff"/>
<rect x="1013.5" y="565.5" width="13.0" height="9.5" fill="#000" rx="2"/>
<rect x="1017.0" y="568.0" width="6.0" height="4.0" fill="#fff"/>
<rect x="993.5" y="561.0" width="6.0" height="5.0" fill="#000"/>
<rect x="970.0" y="328.0" width="31.0" height="12.5" fill="#000"/>
<rect x="974.0" y="340.0" width="8.2" height="20.5" fill="#000"/>
<rect x="988.8" y="340.0" width="8.2" height="20.5" fill="#000"/>
<rect x="975.0" y="331.0" width="4.0" height="3.0" fill="#fff"/>
<rect x="983.0" y="332.0" width="5.0" height="3.0" fill="#fff"/>
<rect x="991.5" y="331.0" width="3.0" height="3.0" fill="#fff"/>
<rect x="980.0" y="336.5" width="8.0" height="2.0" fill="#fff"/>
<line x1="983.7" y1="355.0" x2="983.7" y2="370.0" stroke="#000" stroke-width="1.5"/>
<rect x="970.0" y="607.5" width="31.0" height="12.5" fill="#000"/>
<rect x="974.0" y="587.5" width="8.2" height="20.5" fill="#000"/>
<rect x="988.8" y="587.5" width="8.2" height="20.5" fill="#000"/>
<rect x="975.0" y="614.0" width="4.0" height="3.0" fill="#fff"/>
<rect x="983.0" y="613.0" width="5.0" height="3.0" fill="#fff"/>
<rect x="991.5" y="614.0" width="3.0" height="3.0" fill="#fff"/>
<rect x="980.0" y="609.5" width="8.0" height="2.0" fill="#fff"/>
<line x1="983.7" y1="593.0" x2="983.7" y2="578.0" stroke="#000" stroke-width="1.5"/>
<line x1="1040.2" y1="371.0" x2="1040.2" y2="577.0" stroke="#000" stroke-width="5.2" stroke-dasharray="13 2.2"/>
<line x1="1054.0" y1="371.0" x2="1054.0" y2="577.0" stroke="#000" stroke-width="1.8" stroke-dasharray="12 2.5"/>
<rect x="1051.5" y="362.3" width="83.5" height="47.0" stroke="#000" stroke-width="1.5" fill="none" stroke-dasharray="13 3"/>
<line x1="1051.5" y1="409.3" x2="1135.0" y2="409.3" stroke="#000" stroke-width="2.0" stroke-dasharray="14 3"/>
<rect x="1051.5" y="538.7" width="83.5" height="47.0" stroke="#000" stroke-width="1.5" fill="none" stroke-dasharray="13 3"/>
<line x1="1051.5" y1="538.7" x2="1135.0" y2="538.7" stroke="#000" stroke-width="2.0" stroke-dasharray="14 3"/>
<line x1="1093.3" y1="362.3" x2="1093.3" y2="585.7" stroke="#000" stroke-width="3.4"/>
<circle cx="1085.0" cy="380.0" r="2.6" stroke="#111" stroke-width="1.0" fill="#333"/>
<circle cx="1085.0" cy="380.0" r="1.0" stroke="#ddd" stroke-width="0.1" fill="#ddd"/>
<circle cx="1072.4" cy="380.0" r="2.6" stroke="#111" stroke-width="1.0" fill="#333"/>
<circle cx="1072.4" cy="380.0" r="1.0" stroke="#ddd" stroke-width="0.1" fill="#ddd"/>
<circle cx="1059.1" cy="380.0" r="2.6" stroke="#111" stroke-width="1.0" fill="#333"/>
<circle cx="1059.1" cy="380.0" r="1.0" stroke="#ddd" stroke-width="0.1" fill="#ddd"/>
<circle cx="1079.9" cy="392.0" r="2.6" stroke="#111" stroke-width="1.0" fill="#333"/>
<circle cx="1079.9" cy="392.0" r="1.0" stroke="#ddd" stroke-width="0.1" fill="#ddd"/>
<circle cx="1064.9" cy="392.0" r="2.6" stroke="#111" stroke-width="1.0" fill="#333"/>
<circle cx="1064.9" cy="392.0" r="1.0" stroke="#ddd" stroke-width="0.1" fill="#ddd"/>
<circle cx="1082.9" cy="403.5" r="2.6" stroke="#111" stroke-width="1.0" fill="#333"/>
<circle cx="1082.9" cy="403.5" r="1.0" stroke="#ddd" stroke-width="0.1" fill="#ddd"/>
<circle cx="1070.3" cy="403.5" r="2.6" stroke="#111" stroke-width="1.0" fill="#333"/>
<circle cx="1070.3" cy="403.5" r="1.0" stroke="#ddd" stroke-width="0.1" fill="#ddd"/>
<circle cx="1101.6" cy="380.0" r="2.6" stroke="#111" stroke-width="1.0" fill="#333"/>
<circle cx="1101.6" cy="380.0" r="1.0" stroke="#ddd" stroke-width="0.1" fill="#ddd"/>
<circle cx="1114.2" cy="380.0" r="2.6" stroke="#111" stroke-width="1.0" fill="#333"/>
<circle cx="1114.2" cy="380.0" r="1.0" stroke="#ddd" stroke-width="0.1" fill="#ddd"/>
<circle cx="1127.5" cy="380.0" r="2.6" stroke="#111" stroke-width="1.0" fill="#333"/>
<circle cx="1127.5" cy="380.0" r="1.0" stroke="#ddd" stroke-width="0.1" fill="#ddd"/>
<circle cx="1106.7" cy="392.0" r="2.6" stroke="#111" stroke-width="1.0" fill="#333"/>
<circle cx="1106.7" cy="392.0" r="1.0" stroke="#ddd" stroke-width="0.1" fill="#ddd"/>
<circle cx="1121.7" cy="392.0" r="2.6" stroke="#111" stroke-width="1.0" fill="#333"/>
<circle cx="1121.7" cy="392.0" r="1.0" stroke="#ddd" stroke-width="0.1" fill="#ddd"/>
<circle cx="1103.7" cy="403.5" r="2.6" stroke="#111" stroke-width="1.0" fill="#333"/>
<circle cx="1103.7" cy="403.5" r="1.0" stroke="#ddd" stroke-width="0.1" fill="#ddd"/>
<circle cx="1116.3" cy="403.5" r="2.6" stroke="#111" stroke-width="1.0" fill="#333"/>
<circle cx="1116.3" cy="403.5" r="1.0" stroke="#ddd" stroke-width="0.1" fill="#ddd"/>
<circle cx="1085.0" cy="568.0" r="2.6" stroke="#111" stroke-width="1.0" fill="#333"/>
<circle cx="1085.0" cy="568.0" r="1.0" stroke="#ddd" stroke-width="0.1" fill="#ddd"/>
<circle cx="1072.4" cy="568.0" r="2.6" stroke="#111" stroke-width="1.0" fill="#333"/>
<circle cx="1072.4" cy="568.0" r="1.0" stroke="#ddd" stroke-width="0.1" fill="#ddd"/>
<circle cx="1059.1" cy="568.0" r="2.6" stroke="#111" stroke-width="1.0" fill="#333"/>
<circle cx="1059.1" cy="568.0" r="1.0" stroke="#ddd" stroke-width="0.1" fill="#ddd"/>
<circle cx="1079.9" cy="556.0" r="2.6" stroke="#111" stroke-width="1.0" fill="#333"/>
<circle cx="1079.9" cy="556.0" r="1.0" stroke="#ddd" stroke-width="0.1" fill="#ddd"/>
<circle cx="1064.9" cy="556.0" r="2.6" stroke="#111" stroke-width="1.0" fill="#333"/>
<circle cx="1064.9" cy="556.0" r="1.0" stroke="#ddd" stroke-width="0.1" fill="#ddd"/>
<circle cx="1082.9" cy="544.5" r="2.6" stroke="#111" stroke-width="1.0" fill="#333"/>
<circle cx="1082.9" cy="544.5" r="1.0" stroke="#ddd" stroke-width="0.1" fill="#ddd"/>
<circle cx="1070.3" cy="544.5" r="2.6" stroke="#111" stroke-width="1.0" fill="#333"/>
<circle cx="1070.3" cy="544.5" r="1.0" stroke="#ddd" stroke-width="0.1" fill="#ddd"/>
<circle cx="1101.6" cy="568.0" r="2.6" stroke="#111" stroke-width="1.0" fill="#333"/>
<circle cx="1101.6" cy="568.0" r="1.0" stroke="#ddd" stroke-width="0.1" fill="#ddd"/>
<circle cx="1114.2" cy="568.0" r="2.6" stroke="#111" stroke-width="1.0" fill="#333"/>
<circle cx="1114.2" cy="568.0" r="1.0" stroke="#ddd" stroke-width="0.1" fill="#ddd"/>
<circle cx="1127.5" cy="568.0" r="2.6" stroke="#111" stroke-width="1.0" fill="#333"/>
<circle cx="1127.5" cy="568.0" r="1.0" stroke="#ddd" stroke-width="0.1" fill="#ddd"/>
<circle cx="1106.7" cy="556.0" r="2.6" stroke="#111" stroke-width="1.0" fill="#333"/>
<circle cx="1106.7" cy="556.0" r="1.0" stroke="#ddd" stroke-width="0.1" fill="#ddd"/>
<circle cx="1121.7" cy="556.0" r="2.6" stroke="#111" stroke-width="1.0" fill="#333"/>
<circle cx="1121.7" cy="556.0" r="1.0" stroke="#ddd" stroke-width="0.1" fill="#ddd"/>
<circle cx="1103.7" cy="544.5" r="2.6" stroke="#111" stroke-width="1.0" fill="#333"/>
<circle cx="1103.7" cy="544.5" r="1.0" stroke="#ddd" stroke-width="0.1" fill="#ddd"/>
<circle cx="1116.3" cy="544.5" r="2.6" stroke="#111" stroke-width="1.0" fill="#333"/>
<circle cx="1116.3" cy="544.5" r="1.0" stroke="#ddd" stroke-width="0.1" fill="#ddd"/>
<path d="M1054.5,379 C1063.5,400 1069.5,420 1069.5,437 L1069.5,511 C1069.5,528 1063.5,548 1054.5,569" stroke="#222" stroke-width="1.3" fill="none"/>
<path d="M1135.0,384 C1125.0,402 1116.0,420 1116.0,437 L1116.0,511 C1116.0,528 1125.0,546 1135.0,564" stroke="#222" stroke-width="1.3" fill="none"/>
<line x1="1069.5" y1="437.0" x2="1069.5" y2="511.0" stroke="#000" stroke-width="1.4" stroke-dasharray="8 3"/>
<line x1="1116.0" y1="437.0" x2="1116.0" y2="511.0" stroke="#000" stroke-width="1.4" stroke-dasharray="8 3"/>
<line x1="1083.3" y1="455.0" x2="1085.3" y2="457.0" stroke="#555" stroke-width="1.0"/>
<line x1="1101.3" y1="455.0" x2="1103.3" y2="457.0" stroke="#555" stroke-width="1.0"/>
<line x1="1083.3" y1="473.0" x2="1085.3" y2="475.0" stroke="#555" stroke-width="1.0"/>
<line x1="1101.3" y1="473.0" x2="1103.3" y2="475.0" stroke="#555" stroke-width="1.0"/>
<line x1="1083.3" y1="491.0" x2="1085.3" y2="493.0" stroke="#555" stroke-width="1.0"/>
<line x1="1101.3" y1="491.0" x2="1103.3" y2="493.0" stroke="#555" stroke-width="1.0"/>
<line x1="1075.3" y1="467.0" x2="1077.3" y2="469.0" stroke="#555" stroke-width="1.0"/>
<line x1="1109.3" y1="467.0" x2="1111.3" y2="469.0" stroke="#555" stroke-width="1.0"/>
<line x1="1075.3" y1="478.0" x2="1077.3" y2="480.0" stroke="#555" stroke-width="1.0"/>
<line x1="1109.3" y1="478.0" x2="1111.3" y2="480.0" stroke="#555" stroke-width="1.0"/>
<line x1="999.5" y1="373.0" x2="1054.5" y2="400.0" stroke="#333" stroke-width="1.2" stroke-dasharray="7 3"/>
<line x1="1159.0" y1="372.0" x2="1131.0" y2="400.0" stroke="#333" stroke-width="1.2" stroke-dasharray="7 3"/>
<line x1="999.5" y1="575.0" x2="1054.5" y2="548.0" stroke="#333" stroke-width="1.2" stroke-dasharray="7 3"/>
<line x1="1159.0" y1="576.0" x2="1131.0" y2="548.0" stroke="#333" stroke-width="1.2" stroke-dasharray="7 3"/>
<line x1="1042.3" y1="521.7" x2="1122.0" y2="521.7" stroke="#000" stroke-width="1.4"/>
<rect x="1330.7" y="362.3" width="84.9" height="47.0" stroke="#000" stroke-width="1.5" fill="none" stroke-dasharray="13 3"/>
<line x1="1330.7" y1="409.3" x2="1415.6" y2="409.3" stroke="#000" stroke-width="2.0" stroke-dasharray="14 3"/>
<rect x="1330.7" y="538.7" width="84.9" height="47.0" stroke="#000" stroke-width="1.5" fill="none" stroke-dasharray="13 3"/>
<line x1="1330.7" y1="538.7" x2="1415.6" y2="538.7" stroke="#000" stroke-width="2.0" stroke-dasharray="14 3"/>
<line x1="1372.5" y1="362.3" x2="1372.5" y2="585.7" stroke="#000" stroke-width="3.4"/>
<line x1="1390.0" y1="371.0" x2="1390.0" y2="577.0" stroke="#000" stroke-width="5.4" stroke-dasharray="13 2.2"/>
<line x1="1404.2" y1="371.0" x2="1404.2" y2="577.0" stroke="#000" stroke-width="2.8" stroke-dasharray="12 2.5"/>
<circle cx="1364.0" cy="380.0" r="2.6" stroke="#111" stroke-width="1.0" fill="#333"/>
<circle cx="1364.0" cy="380.0" r="1.0" stroke="#ddd" stroke-width="0.1" fill="#ddd"/>
<circle cx="1351.3" cy="380.0" r="2.6" stroke="#111" stroke-width="1.0" fill="#333"/>
<circle cx="1351.3" cy="380.0" r="1.0" stroke="#ddd" stroke-width="0.1" fill="#ddd"/>
<circle cx="1337.7" cy="380.0" r="2.6" stroke="#111" stroke-width="1.0" fill="#333"/>
<circle cx="1337.7" cy="380.0" r="1.0" stroke="#ddd" stroke-width="0.1" fill="#ddd"/>
<circle cx="1358.9" cy="392.0" r="2.6" stroke="#111" stroke-width="1.0" fill="#333"/>
<circle cx="1358.9" cy="392.0" r="1.0" stroke="#ddd" stroke-width="0.1" fill="#ddd"/>
<circle cx="1343.6" cy="392.0" r="2.6" stroke="#111" stroke-width="1.0" fill="#333"/>
<circle cx="1343.6" cy="392.0" r="1.0" stroke="#ddd" stroke-width="0.1" fill="#ddd"/>
<circle cx="1361.9" cy="403.5" r="2.6" stroke="#111" stroke-width="1.0" fill="#333"/>
<circle cx="1361.9" cy="403.5" r="1.0" stroke="#ddd" stroke-width="0.1" fill="#ddd"/>
<circle cx="1349.2" cy="403.5" r="2.6" stroke="#111" stroke-width="1.0" fill="#333"/>
<circle cx="1349.2" cy="403.5" r="1.0" stroke="#ddd" stroke-width="0.1" fill="#ddd"/>
<circle cx="1381.0" cy="380.0" r="2.6" stroke="#111" stroke-width="1.0" fill="#333"/>
<circle cx="1381.0" cy="380.0" r="1.0" stroke="#ddd" stroke-width="0.1" fill="#ddd"/>
<circle cx="1393.7" cy="380.0" r="2.6" stroke="#111" stroke-width="1.0" fill="#333"/>
<circle cx="1393.7" cy="380.0" r="1.0" stroke="#ddd" stroke-width="0.1" fill="#ddd"/>
<circle cx="1407.3" cy="380.0" r="2.6" stroke="#111" stroke-width="1.0" fill="#333"/>
<circle cx="1407.3" cy="380.0" r="1.0" stroke="#ddd" stroke-width="0.1" fill="#ddd"/>
<circle cx="1386.1" cy="392.0" r="2.6" stroke="#111" stroke-width="1.0" fill="#333"/>
<circle cx="1386.1" cy="392.0" r="1.0" stroke="#ddd" stroke-width="0.1" fill="#ddd"/>
<circle cx="1401.4" cy="392.0" r="2.6" stroke="#111" stroke-width="1.0" fill="#333"/>
<circle cx="1401.4" cy="392.0" r="1.0" stroke="#ddd" stroke-width="0.1" fill="#ddd"/>
<circle cx="1383.1" cy="403.5" r="2.6" stroke="#111" stroke-width="1.0" fill="#333"/>
<circle cx="1383.1" cy="403.5" r="1.0" stroke="#ddd" stroke-width="0.1" fill="#ddd"/>
<circle cx="1395.8" cy="403.5" r="2.6" stroke="#111" stroke-width="1.0" fill="#333"/>
<circle cx="1395.8" cy="403.5" r="1.0" stroke="#ddd" stroke-width="0.1" fill="#ddd"/>
<circle cx="1364.0" cy="568.0" r="2.6" stroke="#111" stroke-width="1.0" fill="#333"/>
<circle cx="1364.0" cy="568.0" r="1.0" stroke="#ddd" stroke-width="0.1" fill="#ddd"/>
<circle cx="1351.3" cy="568.0" r="2.6" stroke="#111" stroke-width="1.0" fill="#333"/>
<circle cx="1351.3" cy="568.0" r="1.0" stroke="#ddd" stroke-width="0.1" fill="#ddd"/>
<circle cx="1337.7" cy="568.0" r="2.6" stroke="#111" stroke-width="1.0" fill="#333"/>
<circle cx="1337.7" cy="568.0" r="1.0" stroke="#ddd" stroke-width="0.1" fill="#ddd"/>
<circle cx="1358.9" cy="556.0" r="2.6" stroke="#111" stroke-width="1.0" fill="#333"/>
<circle cx="1358.9" cy="556.0" r="1.0" stroke="#ddd" stroke-width="0.1" fill="#ddd"/>
<circle cx="1343.6" cy="556.0" r="2.6" stroke="#111" stroke-width="1.0" fill="#333"/>
<circle cx="1343.6" cy="556.0" r="1.0" stroke="#ddd" stroke-width="0.1" fill="#ddd"/>
<circle cx="1361.9" cy="544.5" r="2.6" stroke="#111" stroke-width="1.0" fill="#333"/>
<circle cx="1361.9" cy="544.5" r="1.0" stroke="#ddd" stroke-width="0.1" fill="#ddd"/>
<circle cx="1349.2" cy="544.5" r="2.6" stroke="#111" stroke-width="1.0" fill="#333"/>
<circle cx="1349.2" cy="544.5" r="1.0" stroke="#ddd" stroke-width="0.1" fill="#ddd"/>
<circle cx="1381.0" cy="568.0" r="2.6" stroke="#111" stroke-width="1.0" fill="#333"/>
<circle cx="1381.0" cy="568.0" r="1.0" stroke="#ddd" stroke-width="0.1" fill="#ddd"/>
<circle cx="1393.7" cy="568.0" r="2.6" stroke="#111" stroke-width="1.0" fill="#333"/>
<circle cx="1393.7" cy="568.0" r="1.0" stroke="#ddd" stroke-width="0.1" fill="#ddd"/>
<circle cx="1407.3" cy="568.0" r="2.6" stroke="#111" stroke-width="1.0" fill="#333"/>
<circle cx="1407.3" cy="568.0" r="1.0" stroke="#ddd" stroke-width="0.1" fill="#ddd"/>
<circle cx="1386.1" cy="556.0" r="2.6" stroke="#111" stroke-width="1.0" fill="#333"/>
<circle cx="1386.1" cy="556.0" r="1.0" stroke="#ddd" stroke-width="0.1" fill="#ddd"/>
<circle cx="1401.4" cy="556.0" r="2.6" stroke="#111" stroke-width="1.0" fill="#333"/>
<circle cx="1401.4" cy="556.0" r="1.0" stroke="#ddd" stroke-width="0.1" fill="#ddd"/>
<circle cx="1383.1" cy="544.5" r="2.6" stroke="#111" stroke-width="1.0" fill="#333"/>
<circle cx="1383.1" cy="544.5" r="1.0" stroke="#ddd" stroke-width="0.1" fill="#ddd"/>
<circle cx="1395.8" cy="544.5" r="2.6" stroke="#111" stroke-width="1.0" fill="#333"/>
<circle cx="1395.8" cy="544.5" r="1.0" stroke="#ddd" stroke-width="0.1" fill="#ddd"/>
<path d="M1333.7,379 C1342.7,400 1348.7,420 1348.7,437 L1348.7,511 C1348.7,528 1342.7,548 1333.7,569" stroke="#222" stroke-width="1.3" fill="none"/>
<path d="M1415.6,384 C1405.6,402 1396.6,420 1396.6,437 L1396.6,511 C1396.6,528 1405.6,546 1415.6,564" stroke="#222" stroke-width="1.3" fill="none"/>
<line x1="1348.7" y1="437.0" x2="1348.7" y2="511.0" stroke="#000" stroke-width="1.4" stroke-dasharray="8 3"/>
<line x1="1396.6" y1="437.0" x2="1396.6" y2="511.0" stroke="#000" stroke-width="1.4" stroke-dasharray="8 3"/>
<line x1="1362.5" y1="455.0" x2="1364.5" y2="457.0" stroke="#555" stroke-width="1.0"/>
<line x1="1380.5" y1="455.0" x2="1382.5" y2="457.0" stroke="#555" stroke-width="1.0"/>
<line x1="1362.5" y1="473.0" x2="1364.5" y2="475.0" stroke="#555" stroke-width="1.0"/>
<line x1="1380.5" y1="473.0" x2="1382.5" y2="475.0" stroke="#555" stroke-width="1.0"/>
<line x1="1362.5" y1="491.0" x2="1364.5" y2="493.0" stroke="#555" stroke-width="1.0"/>
<line x1="1380.5" y1="491.0" x2="1382.5" y2="493.0" stroke="#555" stroke-width="1.0"/>
<line x1="1354.5" y1="467.0" x2="1356.5" y2="469.0" stroke="#555" stroke-width="1.0"/>
<line x1="1388.5" y1="467.0" x2="1390.5" y2="469.0" stroke="#555" stroke-width="1.0"/>
<line x1="1354.5" y1="478.0" x2="1356.5" y2="480.0" stroke="#555" stroke-width="1.0"/>
<line x1="1388.5" y1="478.0" x2="1390.5" y2="480.0" stroke="#555" stroke-width="1.0"/>
<line x1="1278.7" y1="373.0" x2="1333.7" y2="400.0" stroke="#333" stroke-width="1.2" stroke-dasharray="7 3"/>
<line x1="1439.6" y1="372.0" x2="1411.6" y2="400.0" stroke="#333" stroke-width="1.2" stroke-dasharray="7 3"/>
<line x1="1278.7" y1="575.0" x2="1333.7" y2="548.0" stroke="#333" stroke-width="1.2" stroke-dasharray="7 3"/>
<line x1="1439.6" y1="576.0" x2="1411.6" y2="548.0" stroke="#333" stroke-width="1.2" stroke-dasharray="7 3"/>
<path d="M1140,372 Q1170,378 1186,398" stroke="#333" stroke-width="1.3" fill="none" stroke-dasharray="8 3"/>
<path d="M1140,576 Q1170,570 1186,550" stroke="#333" stroke-width="1.3" fill="none" stroke-dasharray="8 3"/>
<line x1="1186.0" y1="371.0" x2="1186.0" y2="577.0" stroke="#000" stroke-width="2.0"/>
<line x1="1203.0" y1="371.0" x2="1203.0" y2="577.0" stroke="#000" stroke-width="2.6" stroke-dasharray="13 2.5"/>
<line x1="1188.6" y1="472.8" x2="1253.4" y2="472.8" stroke="#000" stroke-width="1.6"/>
<line x1="1188.6" y1="521.7" x2="1203.0" y2="521.7" stroke="#000" stroke-width="1.4"/>
<path d="M1286.2,376.7 L1253.8,472.5 L1275.8,544 L1291.5,572.7" stroke="#111" stroke-width="1.4" fill="none"/>
<line x1="1272.7" y1="371.5" x2="1272.7" y2="402.0" stroke="#000" stroke-width="4.0"/>
<line x1="1273.2" y1="512.6" x2="1273.2" y2="572.7" stroke="#000" stroke-width="3.0"/>
<rect x="1272.0" y="369.5" width="27.0" height="8.5" fill="#000"/>
<rect x="1277.0" y="373.0" width="3.0" height="2.5" fill="#fff"/>
<rect x="1263.0" y="401.0" width="14.5" height="20.0" fill="#000" rx="3"/>
<rect x="1266.0" y="399.0" width="7.0" height="24.0" fill="#000" rx="2"/>
<rect x="1268.5" y="408.0" width="2.0" height="2.0" fill="#fff"/>
<rect x="1263.5" y="524.0" width="13.0" height="14.0" fill="#000" rx="2"/>
<rect x="1266.5" y="527.5" width="4.0" height="4.0" fill="#fff"/>
<path d="M1266,562 L1273,549 L1280,562 L1290,566 L1291,575 L1262,575 Z" stroke="#000" stroke-width="1.4" fill="none"/>
<path d="M1273.2,540 L1292,572" stroke="#000" stroke-width="1.4" fill="none"/>
<line x1="1219.5" y1="318.0" x2="1219.5" y2="371.0" stroke="#000" stroke-width="1.3"/>
<line x1="1271.7" y1="328.5" x2="1271.7" y2="372.0" stroke="#000" stroke-width="1.3"/>
<rect x="1167.7" y="333.6" width="30.0" height="8.0" stroke="#000" stroke-width="1.8" fill="none"/>
<rect x="1167.7" y="606.4" width="30.0" height="8.0" stroke="#000" stroke-width="1.8" fill="none"/>
<text x="0" y="0" font-size="9" fill="#8aa6c4" transform="translate(1213.5,337) rotate(-90)">08 T</text>
<line x1="1196.0" y1="466.5" x2="1222.0" y2="466.5" stroke="#8fb0d6" stroke-width="0.9" stroke-dasharray="2 1.2"/>
<circle cx="1193.5" cy="466.0" r="1.6" stroke="#8fb0d6" stroke-width="0.8" fill="none"/>
<line x1="1219.5" y1="577.0" x2="1219.5" y2="612.0" stroke="#000" stroke-width="1.3"/>
<line x1="1239.0" y1="556.0" x2="1239.0" y2="617.0" stroke="#000" stroke-width="1.3"/>
<rect x="1304.0" y="522.0" width="10.5" height="19.0" fill="#000" rx="5"/>
<rect x="1306.8" y="526.0" width="4.4" height="6.0" fill="#fff" rx="2"/>
<rect x="1317.0" y="522.0" width="10.5" height="19.0" fill="#000" rx="5"/>
<rect x="1319.8" y="526.0" width="4.4" height="6.0" fill="#fff" rx="2"/>
<line x1="1202.6" y1="372.0" x2="1202.6" y2="576.0" stroke="#000" stroke-width="1.2" stroke-dasharray="9 3"/>
<path d="M1435,371.5 L1532,386 Q1554,390 1555.4,408 L1555.4,538 Q1554,557 1532,561 L1435,576.5" stroke="#222" stroke-width="1.4" fill="none" stroke-dasharray="12 3"/>
<path d="M1468,372 L1545,392" stroke="#555" stroke-width="1.0" fill="none" stroke-dasharray="6 3"/>
<path d="M1468,576 L1545,556" stroke="#555" stroke-width="1.0" fill="none" stroke-dasharray="6 3"/>
<line x1="1558.0" y1="371.0" x2="1558.0" y2="577.0" stroke="#000" stroke-width="4.2" stroke-dasharray="13 2.5"/>
<line x1="1572.4" y1="371.0" x2="1572.4" y2="577.0" stroke="#000" stroke-width="1.6"/>
<rect x="1441.7" y="358.4" width="138.5" height="10.4" stroke="#000" stroke-width="1.3" fill="none" stroke-dasharray="12 3"/>
<line x1="1470.0" y1="358.4" x2="1470.0" y2="368.8" stroke="#000" stroke-width="1.2"/>
<line x1="1611.0" y1="358.0" x2="1611.0" y2="378.0" stroke="#000" stroke-width="2.0"/>
<line x1="1617.0" y1="358.0" x2="1617.0" y2="372.0" stroke="#000" stroke-width="1.2"/>
<rect x="1441.7" y="579.2" width="138.5" height="10.4" stroke="#000" stroke-width="1.3" fill="none" stroke-dasharray="12 3"/>
<line x1="1470.0" y1="589.6" x2="1470.0" y2="579.2" stroke="#000" stroke-width="1.2"/>
<line x1="1611.0" y1="590.0" x2="1611.0" y2="570.0" stroke="#000" stroke-width="2.0"/>
<line x1="1617.0" y1="590.0" x2="1617.0" y2="576.0" stroke="#000" stroke-width="1.2"/>
<rect x="1492.0" y="577.0" width="3.0" height="16.0" fill="#000"/>
<rect x="1516.0" y="577.0" width="3.0" height="16.0" fill="#000"/>
<rect x="1528.0" y="577.0" width="3.0" height="16.0" fill="#000"/>
<line x1="1490.0" y1="590.0" x2="1540.0" y2="590.0" stroke="#000" stroke-width="1.6"/>
<path d="M1449,576 L1456,563 L1463,576 Z" stroke="#000" stroke-width="1.4" fill="none"/>
<path d="M1517,576 L1524,563 L1531,576 Z" stroke="#000" stroke-width="1.4" fill="none"/>
<path d="M1585,576 L1592,563 L1599,576 Z" stroke="#000" stroke-width="1.4" fill="none"/>
<line x1="1572.4" y1="397.6" x2="1597.2" y2="374.0" stroke="#333" stroke-width="1.3" stroke-dasharray="8 3"/>
<line x1="1572.4" y1="550.4" x2="1597.2" y2="574.0" stroke="#333" stroke-width="1.3" stroke-dasharray="8 3"/>
<path d="M1560,384 L1657.3,412" stroke="#333" stroke-width="1.3" fill="none" stroke-dasharray="9 3"/>
<path d="M1560,564 L1657.3,536" stroke="#333" stroke-width="1.3" fill="none" stroke-dasharray="9 3"/>
<path d="M1597,374 L1657,386" stroke="#444" stroke-width="1.2" fill="none" stroke-dasharray="9 3"/>
<path d="M1597,574 L1657,562" stroke="#444" stroke-width="1.2" fill="none" stroke-dasharray="9 3"/>
<rect x="1657.3" y="374.0" width="102.0" height="36.7" stroke="#000" stroke-width="1.4" fill="none" stroke-dasharray="10 3"/>
<line x1="1657.3" y1="410.7" x2="1759.2" y2="410.7" stroke="#000" stroke-width="2.2" stroke-dasharray="12 3"/>
<rect x="1660.0" y="361.0" width="94.0" height="9.0" stroke="#000" stroke-width="1.4" fill="none" stroke-dasharray="12 3"/>
<circle cx="1671.0" cy="379.5" r="2.9" stroke="#000" stroke-width="1" fill="#111"/>
<circle cx="1685.0" cy="379.5" r="2.9" stroke="#000" stroke-width="1" fill="#111"/>
<circle cx="1699.0" cy="379.5" r="2.9" stroke="#000" stroke-width="1" fill="#111"/>
<circle cx="1719.0" cy="379.5" r="2.9" stroke="#000" stroke-width="1" fill="#111"/>
<circle cx="1732.0" cy="379.5" r="2.9" stroke="#000" stroke-width="1" fill="#111"/>
<circle cx="1746.0" cy="379.5" r="2.9" stroke="#000" stroke-width="1" fill="#111"/>
<circle cx="1678.0" cy="393.0" r="3.1" stroke="#000" stroke-width="1" fill="#111"/>
<circle cx="1691.0" cy="393.0" r="3.1" stroke="#000" stroke-width="1" fill="#111"/>
<circle cx="1724.0" cy="393.0" r="3.1" stroke="#000" stroke-width="1" fill="#111"/>
<circle cx="1738.0" cy="393.0" r="3.1" stroke="#000" stroke-width="1" fill="#111"/>
<circle cx="1670.0" cy="404.5" r="2.9" stroke="#000" stroke-width="1" fill="#111"/>
<circle cx="1684.0" cy="404.5" r="2.9" stroke="#000" stroke-width="1" fill="#111"/>
<circle cx="1698.0" cy="404.5" r="2.9" stroke="#000" stroke-width="1" fill="#111"/>
<circle cx="1717.0" cy="404.5" r="2.9" stroke="#000" stroke-width="1" fill="#111"/>
<circle cx="1730.0" cy="404.5" r="2.9" stroke="#000" stroke-width="1" fill="#111"/>
<circle cx="1744.0" cy="404.5" r="2.9" stroke="#000" stroke-width="1" fill="#111"/>
<circle cx="1670.3" cy="440.0" r="2.6" stroke="#444" stroke-width="0.8" fill="#555"/>
<circle cx="1685.5" cy="440.0" r="2.6" stroke="#444" stroke-width="0.8" fill="#555"/>
<circle cx="1725.2" cy="440.0" r="2.6" stroke="#444" stroke-width="0.8" fill="#555"/>
<circle cx="1741.0" cy="440.0" r="2.6" stroke="#444" stroke-width="0.8" fill="#555"/>
<line x1="1660.0" y1="361.0" x2="1660.0" y2="374.0" stroke="#000" stroke-width="2.0"/>
<line x1="1706.0" y1="361.0" x2="1706.0" y2="374.0" stroke="#000" stroke-width="3.0"/>
<line x1="1754.0" y1="361.0" x2="1754.0" y2="374.0" stroke="#000" stroke-width="2.0"/>
<rect x="1657.3" y="537.3" width="102.0" height="36.7" stroke="#000" stroke-width="1.4" fill="none" stroke-dasharray="10 3"/>
<line x1="1657.3" y1="537.3" x2="1759.2" y2="537.3" stroke="#000" stroke-width="2.2" stroke-dasharray="12 3"/>
<rect x="1660.0" y="578.0" width="94.0" height="9.0" stroke="#000" stroke-width="1.4" fill="none" stroke-dasharray="12 3"/>
<circle cx="1671.0" cy="568.5" r="2.9" stroke="#000" stroke-width="1" fill="#111"/>
<circle cx="1685.0" cy="568.5" r="2.9" stroke="#000" stroke-width="1" fill="#111"/>
<circle cx="1699.0" cy="568.5" r="2.9" stroke="#000" stroke-width="1" fill="#111"/>
<circle cx="1719.0" cy="568.5" r="2.9" stroke="#000" stroke-width="1" fill="#111"/>
<circle cx="1732.0" cy="568.5" r="2.9" stroke="#000" stroke-width="1" fill="#111"/>
<circle cx="1746.0" cy="568.5" r="2.9" stroke="#000" stroke-width="1" fill="#111"/>
<circle cx="1678.0" cy="555.0" r="3.1" stroke="#000" stroke-width="1" fill="#111"/>
<circle cx="1691.0" cy="555.0" r="3.1" stroke="#000" stroke-width="1" fill="#111"/>
<circle cx="1724.0" cy="555.0" r="3.1" stroke="#000" stroke-width="1" fill="#111"/>
<circle cx="1738.0" cy="555.0" r="3.1" stroke="#000" stroke-width="1" fill="#111"/>
<circle cx="1670.0" cy="543.5" r="2.9" stroke="#000" stroke-width="1" fill="#111"/>
<circle cx="1684.0" cy="543.5" r="2.9" stroke="#000" stroke-width="1" fill="#111"/>
<circle cx="1698.0" cy="543.5" r="2.9" stroke="#000" stroke-width="1" fill="#111"/>
<circle cx="1717.0" cy="543.5" r="2.9" stroke="#000" stroke-width="1" fill="#111"/>
<circle cx="1730.0" cy="543.5" r="2.9" stroke="#000" stroke-width="1" fill="#111"/>
<circle cx="1744.0" cy="543.5" r="2.9" stroke="#000" stroke-width="1" fill="#111"/>
<circle cx="1670.3" cy="508.0" r="2.6" stroke="#444" stroke-width="0.8" fill="#555"/>
<circle cx="1685.5" cy="508.0" r="2.6" stroke="#444" stroke-width="0.8" fill="#555"/>
<circle cx="1725.2" cy="508.0" r="2.6" stroke="#444" stroke-width="0.8" fill="#555"/>
<circle cx="1741.0" cy="508.0" r="2.6" stroke="#444" stroke-width="0.8" fill="#555"/>
<line x1="1660.0" y1="587.0" x2="1660.0" y2="574.0" stroke="#000" stroke-width="2.0"/>
<line x1="1706.0" y1="587.0" x2="1706.0" y2="574.0" stroke="#000" stroke-width="3.0"/>
<line x1="1754.0" y1="587.0" x2="1754.0" y2="574.0" stroke="#000" stroke-width="2.0"/>
<line x1="1657.3" y1="410.0" x2="1657.3" y2="538.0" stroke="#000" stroke-width="1.3" stroke-dasharray="8 3"/>
<line x1="1708.6" y1="410.0" x2="1708.6" y2="538.0" stroke="#000" stroke-width="1.6" stroke-dasharray="9 3"/>
<line x1="1753.0" y1="410.0" x2="1753.0" y2="538.0" stroke="#000" stroke-width="1.6" stroke-dasharray="9 3"/>
<line x1="1759.6" y1="410.0" x2="1759.6" y2="538.0" stroke="#000" stroke-width="1.6" stroke-dasharray="10 3"/>
<line x1="1703.2" y1="371.0" x2="1703.2" y2="577.0" stroke="#000" stroke-width="4.6" stroke-dasharray="13 2.2"/>
<line x1="1746.4" y1="385.0" x2="1746.4" y2="563.0" stroke="#000" stroke-width="4.8" stroke-dasharray="13 2.2"/>
<line x1="1652.0" y1="380.0" x2="1757.0" y2="380.0" stroke="#000" stroke-width="9.5" stroke-dasharray="5 2.4 3 1.6"/>
<line x1="1652.0" y1="380.0" x2="1757.0" y2="380.0" stroke="#fff" stroke-width="2.0" stroke-dasharray="2 5"/>
<line x1="1652.0" y1="568.0" x2="1757.0" y2="568.0" stroke="#000" stroke-width="9.5" stroke-dasharray="5 2.4 3 1.6"/>
<line x1="1652.0" y1="568.0" x2="1757.0" y2="568.0" stroke="#fff" stroke-width="2.0" stroke-dasharray="2 5"/>
<line x1="1765.8" y1="325.0" x2="1765.8" y2="620.0" stroke="#000" stroke-width="1.4"/>
<rect x="1771.5" y="461.5" width="27.5" height="21.5" stroke="#000" stroke-width="3.4" fill="none"/>
<line x1="1770.0" y1="480.3" x2="1800.6" y2="480.3" stroke="#000" stroke-width="6.5"/>
<rect x="1761.5" y="464.5" width="9.5" height="16.5" stroke="#000" stroke-width="2.2" fill="none"/>
<rect x="1800.3" y="464.0" width="6.0" height="16.5" stroke="#000" stroke-width="2.2" fill="none"/>
<rect x="1800.0" y="470.0" width="5.0" height="5.0" fill="#000"/>
<line x1="1799.3" y1="462.6" x2="1841.8" y2="462.6" stroke="#000" stroke-width="1.4"/>
<line x1="1831.0" y1="370.5" x2="1831.0" y2="462.6" stroke="#000" stroke-width="1.4"/>
<path d="M1829.2,455 L1831,462 L1832.8,455 Z" stroke="#000" stroke-width="1.0" fill="#000"/>
<line x1="1769.5" y1="387.5" x2="2057.3" y2="574.7" stroke="#222" stroke-width="1.8" stroke-dasharray="7 2.2"/>
<line x1="1782.2" y1="376.1" x2="2074.4" y2="560.5" stroke="#222" stroke-width="1.8" stroke-dasharray="7 2.2"/>
<line x1="1769.5" y1="560.5" x2="2054.5" y2="376.1" stroke="#222" stroke-width="1.8" stroke-dasharray="7 2.2"/>
<line x1="1785.0" y1="571.8" x2="2074.4" y2="384.7" stroke="#222" stroke-width="1.8" stroke-dasharray="7 2.2"/>
<line x1="1768.0" y1="407.3" x2="1966.6" y2="373.3" stroke="#333" stroke-width="1.3" stroke-dasharray="9 3"/>
<line x1="1830.5" y1="398.8" x2="2003.5" y2="373.3" stroke="#333" stroke-width="1.3" stroke-dasharray="9 3"/>
<line x1="1768.0" y1="376.0" x2="1800.0" y2="398.0" stroke="#444" stroke-width="1.2" stroke-dasharray="6 3"/>
<line x1="2012.0" y1="373.0" x2="2074.0" y2="414.0" stroke="#444" stroke-width="1.2" stroke-dasharray="6 3"/>
<line x1="2037.0" y1="373.0" x2="2037.0" y2="392.0" stroke="#000" stroke-width="1.2"/>
<circle cx="1772.0" cy="379.0" r="2.5" stroke="#000" stroke-width="1" fill="#444"/>
<circle cx="2059.0" cy="379.5" r="2.8" stroke="#000" stroke-width="1" fill="#444"/>
<circle cx="2044.0" cy="403.0" r="2.6" stroke="#000" stroke-width="1" fill="#444"/>
<circle cx="2061.0" cy="403.0" r="2.2" stroke="#000" stroke-width="1" fill="#555"/>
<circle cx="2072.0" cy="403.0" r="2.0" stroke="#000" stroke-width="1" fill="#555"/>
<line x1="1768.0" y1="540.7" x2="1966.6" y2="574.7" stroke="#333" stroke-width="1.3" stroke-dasharray="9 3"/>
<line x1="1830.5" y1="549.2" x2="2003.5" y2="574.7" stroke="#333" stroke-width="1.3" stroke-dasharray="9 3"/>
<line x1="1768.0" y1="572.0" x2="1800.0" y2="550.0" stroke="#444" stroke-width="1.2" stroke-dasharray="6 3"/>
<line x1="2012.0" y1="575.0" x2="2074.0" y2="534.0" stroke="#444" stroke-width="1.2" stroke-dasharray="6 3"/>
<line x1="2037.0" y1="575.0" x2="2037.0" y2="556.0" stroke="#000" stroke-width="1.2"/>
<circle cx="1772.0" cy="569.0" r="2.5" stroke="#000" stroke-width="1" fill="#444"/>
<circle cx="2059.0" cy="568.5" r="2.8" stroke="#000" stroke-width="1" fill="#444"/>
<circle cx="2044.0" cy="545.0" r="2.6" stroke="#000" stroke-width="1" fill="#444"/>
<circle cx="2061.0" cy="545.0" r="2.2" stroke="#000" stroke-width="1" fill="#555"/>
<circle cx="2072.0" cy="545.0" r="2.0" stroke="#000" stroke-width="1" fill="#555"/>
<rect x="1863.9" y="428.6" width="108.9" height="89.3" stroke="#000" stroke-width="1.4" fill="none" stroke-dasharray="13 3.5"/>
<line x1="1863.9" y1="428.6" x2="1863.9" y2="517.9" stroke="#000" stroke-width="1.6"/>
<line x1="1972.8" y1="428.6" x2="1972.8" y2="517.9" stroke="#000" stroke-width="1.6"/>
<path d="M2030,405 Q2047.4,408 2047.4,430 L2047.4,516 Q2047.4,538 2030,541" stroke="#222" stroke-width="1.3" fill="none" stroke-dasharray="12 3"/>
<line x1="2050.0" y1="407.5" x2="2074.0" y2="407.5" stroke="#000" stroke-width="2.0"/>
<line x1="2050.0" y1="540.0" x2="2074.0" y2="540.0" stroke="#000" stroke-width="2.0"/>
<line x1="2056.0" y1="444.0" x2="2060.0" y2="444.0" stroke="#555" stroke-width="1.2"/>
<line x1="2056.0" y1="502.0" x2="2060.0" y2="502.0" stroke="#555" stroke-width="1.2"/>
<line x1="2056.0" y1="533.0" x2="2060.0" y2="533.0" stroke="#555" stroke-width="1.2"/>
<path d="M1791,576 L1797,563 L1803,576 Z" stroke="#000" stroke-width="1.4" fill="#333"/>
<path d="M1860,576 L1866,563 L1872,576 Z" stroke="#000" stroke-width="1.4" fill="#333"/>
<path d="M1928,576 L1934,563 L1940,576 Z" stroke="#000" stroke-width="1.4" fill="#333"/>
<path d="M1996,576 L2002,563 L2008,576 Z" stroke="#000" stroke-width="1.4" fill="#333"/>
<line x1="1797.0" y1="355.0" x2="1797.0" y2="371.0" stroke="#000" stroke-width="1.2"/>
<line x1="1797.0" y1="593.0" x2="1797.0" y2="577.0" stroke="#000" stroke-width="1.2"/>
<line x1="1800.0" y1="355.0" x2="1800.0" y2="371.0" stroke="#000" stroke-width="1.2"/>
<line x1="1800.0" y1="593.0" x2="1800.0" y2="577.0" stroke="#000" stroke-width="1.2"/>
<line x1="1831.0" y1="355.0" x2="1831.0" y2="371.0" stroke="#000" stroke-width="1.2"/>
<line x1="1831.0" y1="593.0" x2="1831.0" y2="577.0" stroke="#000" stroke-width="1.2"/>
<line x1="1942.0" y1="355.0" x2="1942.0" y2="371.0" stroke="#000" stroke-width="1.2"/>
<line x1="1942.0" y1="593.0" x2="1942.0" y2="577.0" stroke="#000" stroke-width="1.2"/>
<line x1="1990.0" y1="355.0" x2="1990.0" y2="371.0" stroke="#000" stroke-width="1.2"/>
<line x1="1990.0" y1="593.0" x2="1990.0" y2="577.0" stroke="#000" stroke-width="1.2"/>
<line x1="2005.0" y1="355.0" x2="2005.0" y2="371.0" stroke="#000" stroke-width="1.2"/>
<line x1="2005.0" y1="593.0" x2="2005.0" y2="577.0" stroke="#000" stroke-width="1.2"/>
<line x1="2037.0" y1="355.0" x2="2037.0" y2="371.0" stroke="#000" stroke-width="1.2"/>
<line x1="2037.0" y1="593.0" x2="2037.0" y2="577.0" stroke="#000" stroke-width="1.2"/>
<line x1="2075.0" y1="352.0" x2="2075.0" y2="596.0" stroke="#000" stroke-width="3.4"/>
<line x1="2080.6" y1="352.0" x2="2080.6" y2="596.0" stroke="#000" stroke-width="1.5" stroke-dasharray="9 3"/>
<line x1="2086.2" y1="352.0" x2="2086.2" y2="596.0" stroke="#000" stroke-width="3.0" stroke-dasharray="10 2"/>
<line x1="2090.8" y1="352.0" x2="2090.8" y2="596.0" stroke="#000" stroke-width="3.6" stroke-dasharray="5 1.6"/>
<line x1="2096.0" y1="352.0" x2="2096.0" y2="596.0" stroke="#000" stroke-width="3.6" stroke-dasharray="4 1.4"/>
<line x1="2101.0" y1="352.0" x2="2101.0" y2="596.0" stroke="#000" stroke-width="2.6" stroke-dasharray="7 2"/>
<line x1="2105.5" y1="352.0" x2="2105.5" y2="596.0" stroke="#000" stroke-width="2.0" stroke-dasharray="9 2.5"/>
<line x1="2110.0" y1="352.0" x2="2110.0" y2="596.0" stroke="#000" stroke-width="1.6" stroke-dasharray="5 2.5"/>
<line x1="2116.6" y1="352.0" x2="2116.6" y2="596.0" stroke="#000" stroke-width="2.6"/>
<rect x="2046.0" y="315.2" width="73.0" height="31.8" fill="#000"/>
<rect x="2077.0" y="345.0" width="40.0" height="27.0" fill="#000"/>
<rect x="2117.0" y="316.0" width="3.5" height="29.0" stroke="#000" stroke-width="1.0" fill="none" stroke-dasharray="4 2"/>
<rect x="2051.0" y="321.0" width="5.0" height="3.0" fill="#fff"/>
<rect x="2060.0" y="321.0" width="4.0" height="3.0" fill="#fff"/>
<rect x="2069.0" y="327.0" width="5.0" height="4.0" fill="#fff"/>
<rect x="2092.0" y="324.0" width="11.0" height="8.0" fill="#fff"/>
<rect x="2051.0" y="333.0" width="4.0" height="3.0" fill="#fff"/>
<rect x="2062.0" y="336.0" width="5.0" height="3.0" fill="#fff"/>
<rect x="2108.0" y="322.0" width="4.0" height="4.0" fill="#fff"/>
<rect x="2100.0" y="338.0" width="4.0" height="3.0" fill="#fff"/>
<rect x="2083.0" y="352.0" width="4.0" height="5.0" fill="#fff"/>
<rect x="2096.0" y="358.0" width="5.0" height="4.0" fill="#fff"/>
<rect x="2106.0" y="350.0" width="3.0" height="6.0" fill="#fff"/>
<rect x="2077.4" y="274.6" width="26.6" height="34.9" stroke="#000" stroke-width="1.5" fill="none" stroke-dasharray="14 3"/>
<line x1="2075.6" y1="311.5" x2="2106.0" y2="311.5" stroke="#000" stroke-width="1.6"/>
<line x1="2077.4" y1="274.6" x2="2104.0" y2="274.6" stroke="#000" stroke-width="2.0"/>
<line x1="2086.0" y1="380.0" x2="2101.0" y2="380.0" stroke="#000" stroke-width="1.6" stroke-dasharray="3 2"/>
<line x1="2086.0" y1="390.5" x2="2101.0" y2="390.5" stroke="#000" stroke-width="1.6" stroke-dasharray="3 2"/>
<line x1="2086.0" y1="401.0" x2="2101.0" y2="401.0" stroke="#000" stroke-width="1.6" stroke-dasharray="3 2"/>
<line x1="2086.0" y1="411.5" x2="2101.0" y2="411.5" stroke="#000" stroke-width="1.6" stroke-dasharray="3 2"/>
<line x1="2086.0" y1="422.0" x2="2101.0" y2="422.0" stroke="#000" stroke-width="1.6" stroke-dasharray="3 2"/>
<line x1="2086.0" y1="432.5" x2="2101.0" y2="432.5" stroke="#000" stroke-width="1.6" stroke-dasharray="3 2"/>
<line x1="2086.0" y1="443.0" x2="2101.0" y2="443.0" stroke="#000" stroke-width="1.6" stroke-dasharray="3 2"/>
<line x1="2086.0" y1="453.5" x2="2101.0" y2="453.5" stroke="#000" stroke-width="1.6" stroke-dasharray="3 2"/>
<line x1="2086.0" y1="464.0" x2="2101.0" y2="464.0" stroke="#000" stroke-width="1.6" stroke-dasharray="3 2"/>
<rect x="2046.0" y="601.0" width="73.0" height="31.8" fill="#000"/>
<rect x="2077.0" y="576.0" width="40.0" height="27.0" fill="#000"/>
<rect x="2117.0" y="603.0" width="3.5" height="29.0" stroke="#000" stroke-width="1.0" fill="none" stroke-dasharray="4 2"/>
<rect x="2051.0" y="624.0" width="5.0" height="3.0" fill="#fff"/>
<rect x="2060.0" y="624.0" width="4.0" height="3.0" fill="#fff"/>
<rect x="2069.0" y="617.0" width="5.0" height="4.0" fill="#fff"/>
<rect x="2092.0" y="616.0" width="11.0" height="8.0" fill="#fff"/>
<rect x="2051.0" y="612.0" width="4.0" height="3.0" fill="#fff"/>
<rect x="2062.0" y="609.0" width="5.0" height="3.0" fill="#fff"/>
<rect x="2108.0" y="622.0" width="4.0" height="4.0" fill="#fff"/>
<rect x="2100.0" y="607.0" width="4.0" height="3.0" fill="#fff"/>
<rect x="2083.0" y="591.0" width="4.0" height="5.0" fill="#fff"/>
<rect x="2096.0" y="586.0" width="5.0" height="4.0" fill="#fff"/>
<rect x="2106.0" y="592.0" width="3.0" height="6.0" fill="#fff"/>
<rect x="2077.4" y="638.5" width="26.6" height="34.9" stroke="#000" stroke-width="1.5" fill="none" stroke-dasharray="14 3"/>
<line x1="2075.6" y1="636.5" x2="2106.0" y2="636.5" stroke="#000" stroke-width="1.6"/>
<line x1="2077.4" y1="673.4" x2="2104.0" y2="673.4" stroke="#000" stroke-width="2.0"/>
<line x1="2086.0" y1="568.0" x2="2101.0" y2="568.0" stroke="#000" stroke-width="1.6" stroke-dasharray="3 2"/>
<line x1="2086.0" y1="557.5" x2="2101.0" y2="557.5" stroke="#000" stroke-width="1.6" stroke-dasharray="3 2"/>
<line x1="2086.0" y1="547.0" x2="2101.0" y2="547.0" stroke="#000" stroke-width="1.6" stroke-dasharray="3 2"/>
<line x1="2086.0" y1="536.5" x2="2101.0" y2="536.5" stroke="#000" stroke-width="1.6" stroke-dasharray="3 2"/>
<line x1="2086.0" y1="526.0" x2="2101.0" y2="526.0" stroke="#000" stroke-width="1.6" stroke-dasharray="3 2"/>
<line x1="2086.0" y1="515.5" x2="2101.0" y2="515.5" stroke="#000" stroke-width="1.6" stroke-dasharray="3 2"/>
<line x1="2086.0" y1="505.0" x2="2101.0" y2="505.0" stroke="#000" stroke-width="1.6" stroke-dasharray="3 2"/>
<line x1="2086.0" y1="494.5" x2="2101.0" y2="494.5" stroke="#000" stroke-width="1.6" stroke-dasharray="3 2"/>
<line x1="2086.0" y1="484.0" x2="2101.0" y2="484.0" stroke="#000" stroke-width="1.6" stroke-dasharray="3 2"/>
<path d="M2110,468 L2120,472 L2127,471 L2122,479 L2114,477 Z" stroke="#000" stroke-width="1.0" fill="#111"/>
<line x1="2103.0" y1="463.0" x2="2119.0" y2="474.0" stroke="#000" stroke-width="1.4"/>
<rect x="2086.0" y="452.0" width="9.0" height="44.0" fill="#000"/>
<line x1="1813.5" y1="612.2" x2="1930.0" y2="612.2" stroke="#000" stroke-width="1.5" stroke-dasharray="9 2.5"/>
<rect x="1814.2" y="612.8" width="13.5" height="17.0" stroke="#000" stroke-width="1.4" fill="none"/>
<line x1="1816.5" y1="613.0" x2="1816.5" y2="629.0" stroke="#777" stroke-width="1.6"/>
<line x1="1819.5" y1="613.0" x2="1819.5" y2="629.0" stroke="#777" stroke-width="1.6"/>
<line x1="1822.5" y1="613.0" x2="1822.5" y2="629.0" stroke="#777" stroke-width="1.6"/>
<rect x="1865.5" y="612.5" width="29.8" height="15.0" stroke="#000" stroke-width="1.8" fill="none"/>
<circle cx="1872.0" cy="620.3" r="2.6" stroke="#000" stroke-width="1" fill="#222"/>
<circle cx="1889.7" cy="620.3" r="2.6" stroke="#000" stroke-width="1" fill="#222"/>
<line x1="1880.0" y1="612.0" x2="1880.0" y2="622.0" stroke="#000" stroke-width="2.4"/>
<line x1="1813.5" y1="629.2" x2="1941.0" y2="629.2" stroke="#000" stroke-width="3.4" stroke-dasharray="14 2.4"/>
<rect x="1865.3" y="627.5" width="21.0" height="7.8" fill="#000"/>
<rect x="1888.0" y="627.5" width="6.0" height="7.8" fill="#000"/>
<rect x="1871.0" y="628.0" width="1.5" height="4.0" fill="#fff"/>
<rect x="1879.0" y="628.0" width="1.5" height="4.0" fill="#fff"/>
<path d="M1832,631 L1832,638 Q1832.5,641.5 1837,641.5 L1850,641.5 Q1854.5,641.5 1855,638 L1855,631" stroke="#000" stroke-width="2.6" fill="none" stroke-dasharray="9 2.2"/>
<rect x="1938.5" y="608.5" width="42.0" height="22.0" stroke="#000" stroke-width="1.4" fill="none" stroke-dasharray="8 2.5"/>
<rect x="1938.6" y="616.0" width="3.4" height="20.0" fill="#000"/>
<rect x="1944.8" y="616.0" width="3.6" height="20.0" fill="#666"/>
<rect x="1958.2" y="616.0" width="3.0" height="20.0" fill="#777"/>
<rect x="1964.5" y="616.0" width="2.6" height="13.0" fill="#000"/>
<line x1="1938.0" y1="635.0" x2="1967.0" y2="635.0" stroke="#000" stroke-width="3.0" stroke-dasharray="5 1.6"/>
<rect x="1964.0" y="630.0" width="3.0" height="6.0" fill="#000"/>
<rect x="1877.0" y="580.0" width="18.0" height="16.0" fill="#000"/>
<rect x="1900.0" y="580.0" width="18.0" height="16.0" fill="#000"/>
<rect x="1876.0" y="570.0" width="44.0" height="12.0" stroke="#000" stroke-width="1.4" fill="none"/>
<rect x="1813.0" y="588.0" width="5.0" height="9.0" stroke="#000" stroke-width="1.2" fill="none"/>
<rect x="1813.0" y="351.0" width="5.0" height="9.0" stroke="#000" stroke-width="1.2" fill="none"/>
<rect x="1822.0" y="588.0" width="5.0" height="9.0" stroke="#000" stroke-width="1.2" fill="none"/>
<rect x="1822.0" y="351.0" width="5.0" height="9.0" stroke="#000" stroke-width="1.2" fill="none"/>
<rect x="1842.0" y="588.0" width="5.0" height="9.0" stroke="#000" stroke-width="1.2" fill="none"/>
<rect x="1842.0" y="351.0" width="5.0" height="9.0" stroke="#000" stroke-width="1.2" fill="none"/>
<rect x="1852.0" y="588.0" width="5.0" height="9.0" stroke="#000" stroke-width="1.2" fill="none"/>
<rect x="1852.0" y="351.0" width="5.0" height="9.0" stroke="#000" stroke-width="1.2" fill="none"/>
<rect x="1862.0" y="588.0" width="5.0" height="9.0" stroke="#000" stroke-width="1.2" fill="none"/>
<rect x="1862.0" y="351.0" width="5.0" height="9.0" stroke="#000" stroke-width="1.2" fill="none"/>
<rect x="1925.0" y="588.0" width="5.0" height="9.0" stroke="#000" stroke-width="1.2" fill="none"/>
<rect x="1925.0" y="351.0" width="5.0" height="9.0" stroke="#000" stroke-width="1.2" fill="none"/>
<rect x="1936.0" y="588.0" width="5.0" height="9.0" stroke="#000" stroke-width="1.2" fill="none"/>
<rect x="1936.0" y="351.0" width="5.0" height="9.0" stroke="#000" stroke-width="1.2" fill="none"/>
<rect x="1948.0" y="588.0" width="5.0" height="9.0" stroke="#000" stroke-width="1.2" fill="none"/>
<rect x="1948.0" y="351.0" width="5.0" height="9.0" stroke="#000" stroke-width="1.2" fill="none"/>
<rect x="1960.0" y="588.0" width="5.0" height="9.0" stroke="#000" stroke-width="1.2" fill="none"/>
<rect x="1960.0" y="351.0" width="5.0" height="9.0" stroke="#000" stroke-width="1.2" fill="none"/>
</g>
<defs><clipPath id="clipLow"><rect x="0" y="700" width="2560" height="1055.5"/></clipPath></defs>
<g id="lower" clip-path="url(#clipLow)">
<line x1="1235.6" y1="1012.6" x2="2250.0" y2="1534.6" stroke="#1c1c1c" stroke-width="1.4" stroke-dasharray="10 1.8 2.4 1.8"/>
<line x1="1212.6" y1="1062.5" x2="2229.9" y2="1585.2" stroke="#1c1c1c" stroke-width="1.4" stroke-dasharray="10 1.8 2.4 1.8"/>
<line x1="2229.9" y1="1585.2" x2="2328.6" y2="1631.7" stroke="#1c1c1c" stroke-width="1.4" stroke-dasharray="10 1.8 2.4 1.8"/>
<line x1="1087.5" y1="1046.3" x2="2310.0" y2="1673.3" stroke="#1c1c1c" stroke-width="1.4" stroke-dasharray="10 1.8 2.4 1.8"/>
<line x1="1037.3" y1="1144.8" x2="1731.6" y2="1500.4" stroke="#1c1c1c" stroke-width="1.4" stroke-dasharray="10 1.8 2.4 1.8"/>
<line x1="1731.6" y1="1500.4" x2="2183.7" y2="1738.2" stroke="#1c1c1c" stroke-width="1.4" stroke-dasharray="10 1.8 2.4 1.8"/>
<line x1="2183.7" y1="1738.2" x2="2208.3" y2="1753.4" stroke="#1c1c1c" stroke-width="1.4" stroke-dasharray="10 1.8 2.4 1.8"/>
<line x1="1029.2" y1="1201.9" x2="2110.0" y2="1760.0" stroke="#1c1c1c" stroke-width="1.4" stroke-dasharray="10 1.8 2.4 1.8"/>
<line x1="935.5" y1="1358.6" x2="1720.0" y2="1764.2" stroke="#1c1c1c" stroke-width="1.3" stroke-dasharray="9 3"/>
<ellipse cx="946.0" cy="1366.6" rx="3.4" ry="1.5" transform="rotate(27 946.0 1366.6)" fill="none" stroke="#222" stroke-width="1.2"/>
<ellipse cx="963.0" cy="1375.4" rx="3.4" ry="1.5" transform="rotate(27 963.0 1375.4)" fill="none" stroke="#222" stroke-width="1.2"/>
<ellipse cx="980.0" cy="1384.2" rx="3.4" ry="1.5" transform="rotate(27 980.0 1384.2)" fill="none" stroke="#222" stroke-width="1.2"/>
<ellipse cx="997.0" cy="1393.0" rx="3.4" ry="1.5" transform="rotate(27 997.0 1393.0)" fill="none" stroke="#222" stroke-width="1.2"/>
<ellipse cx="1014.0" cy="1401.8" rx="3.4" ry="1.5" transform="rotate(27 1014.0 1401.8)" fill="none" stroke="#222" stroke-width="1.2"/>
<ellipse cx="1031.0" cy="1410.6" rx="3.4" ry="1.5" transform="rotate(27 1031.0 1410.6)" fill="none" stroke="#222" stroke-width="1.2"/>
<ellipse cx="1048.0" cy="1419.4" rx="3.4" ry="1.5" transform="rotate(27 1048.0 1419.4)" fill="none" stroke="#222" stroke-width="1.2"/>
<ellipse cx="1065.0" cy="1428.2" rx="3.4" ry="1.5" transform="rotate(27 1065.0 1428.2)" fill="none" stroke="#222" stroke-width="1.2"/>
<ellipse cx="1082.0" cy="1436.9" rx="3.4" ry="1.5" transform="rotate(27 1082.0 1436.9)" fill="none" stroke="#222" stroke-width="1.2"/>
<ellipse cx="1099.0" cy="1445.7" rx="3.4" ry="1.5" transform="rotate(27 1099.0 1445.7)" fill="none" stroke="#222" stroke-width="1.2"/>
<ellipse cx="1116.0" cy="1454.5" rx="3.4" ry="1.5" transform="rotate(27 1116.0 1454.5)" fill="none" stroke="#222" stroke-width="1.2"/>
<ellipse cx="1133.0" cy="1463.3" rx="3.4" ry="1.5" transform="rotate(27 1133.0 1463.3)" fill="none" stroke="#222" stroke-width="1.2"/>
<ellipse cx="1150.0" cy="1472.1" rx="3.4" ry="1.5" transform="rotate(27 1150.0 1472.1)" fill="none" stroke="#222" stroke-width="1.2"/>
<ellipse cx="1167.0" cy="1480.9" rx="3.4" ry="1.5" transform="rotate(27 1167.0 1480.9)" fill="none" stroke="#222" stroke-width="1.2"/>
<ellipse cx="1184.0" cy="1489.7" rx="3.4" ry="1.5" transform="rotate(27 1184.0 1489.7)" fill="none" stroke="#222" stroke-width="1.2"/>
<ellipse cx="1201.0" cy="1498.5" rx="3.4" ry="1.5" transform="rotate(27 1201.0 1498.5)" fill="none" stroke="#222" stroke-width="1.2"/>
<ellipse cx="1218.0" cy="1507.3" rx="3.4" ry="1.5" transform="rotate(27 1218.0 1507.3)" fill="none" stroke="#222" stroke-width="1.2"/>
<ellipse cx="1235.0" cy="1516.0" rx="3.4" ry="1.5" transform="rotate(27 1235.0 1516.0)" fill="none" stroke="#222" stroke-width="1.2"/>
<ellipse cx="1252.0" cy="1524.8" rx="3.4" ry="1.5" transform="rotate(27 1252.0 1524.8)" fill="none" stroke="#222" stroke-width="1.2"/>
<ellipse cx="1269.0" cy="1533.6" rx="3.4" ry="1.5" transform="rotate(27 1269.0 1533.6)" fill="none" stroke="#222" stroke-width="1.2"/>
<ellipse cx="1286.0" cy="1542.4" rx="3.4" ry="1.5" transform="rotate(27 1286.0 1542.4)" fill="none" stroke="#222" stroke-width="1.2"/>
<ellipse cx="1303.0" cy="1551.2" rx="3.4" ry="1.5" transform="rotate(27 1303.0 1551.2)" fill="none" stroke="#222" stroke-width="1.2"/>
<ellipse cx="1320.0" cy="1560.0" rx="3.4" ry="1.5" transform="rotate(27 1320.0 1560.0)" fill="none" stroke="#222" stroke-width="1.2"/>
<ellipse cx="1337.0" cy="1568.8" rx="3.4" ry="1.5" transform="rotate(27 1337.0 1568.8)" fill="none" stroke="#222" stroke-width="1.2"/>
<ellipse cx="1354.0" cy="1577.6" rx="3.4" ry="1.5" transform="rotate(27 1354.0 1577.6)" fill="none" stroke="#222" stroke-width="1.2"/>
<ellipse cx="1371.0" cy="1586.4" rx="3.4" ry="1.5" transform="rotate(27 1371.0 1586.4)" fill="none" stroke="#222" stroke-width="1.2"/>
<ellipse cx="1388.0" cy="1595.1" rx="3.4" ry="1.5" transform="rotate(27 1388.0 1595.1)" fill="none" stroke="#222" stroke-width="1.2"/>
<ellipse cx="1405.0" cy="1603.9" rx="3.4" ry="1.5" transform="rotate(27 1405.0 1603.9)" fill="none" stroke="#222" stroke-width="1.2"/>
<ellipse cx="1422.0" cy="1612.7" rx="3.4" ry="1.5" transform="rotate(27 1422.0 1612.7)" fill="none" stroke="#222" stroke-width="1.2"/>
<ellipse cx="1439.0" cy="1621.5" rx="3.4" ry="1.5" transform="rotate(27 1439.0 1621.5)" fill="none" stroke="#222" stroke-width="1.2"/>
<ellipse cx="1456.0" cy="1630.3" rx="3.4" ry="1.5" transform="rotate(27 1456.0 1630.3)" fill="none" stroke="#222" stroke-width="1.2"/>
<ellipse cx="1473.0" cy="1639.1" rx="3.4" ry="1.5" transform="rotate(27 1473.0 1639.1)" fill="none" stroke="#222" stroke-width="1.2"/>
<ellipse cx="1490.0" cy="1647.9" rx="3.4" ry="1.5" transform="rotate(27 1490.0 1647.9)" fill="none" stroke="#222" stroke-width="1.2"/>
<ellipse cx="1507.0" cy="1656.7" rx="3.4" ry="1.5" transform="rotate(27 1507.0 1656.7)" fill="none" stroke="#222" stroke-width="1.2"/>
<ellipse cx="1524.0" cy="1665.5" rx="3.4" ry="1.5" transform="rotate(27 1524.0 1665.5)" fill="none" stroke="#222" stroke-width="1.2"/>
<ellipse cx="1541.0" cy="1674.2" rx="3.4" ry="1.5" transform="rotate(27 1541.0 1674.2)" fill="none" stroke="#222" stroke-width="1.2"/>
<ellipse cx="1558.0" cy="1683.0" rx="3.4" ry="1.5" transform="rotate(27 1558.0 1683.0)" fill="none" stroke="#222" stroke-width="1.2"/>
<ellipse cx="1575.0" cy="1691.8" rx="3.4" ry="1.5" transform="rotate(27 1575.0 1691.8)" fill="none" stroke="#222" stroke-width="1.2"/>
<ellipse cx="1592.0" cy="1700.6" rx="3.4" ry="1.5" transform="rotate(27 1592.0 1700.6)" fill="none" stroke="#222" stroke-width="1.2"/>
<ellipse cx="1609.0" cy="1709.4" rx="3.4" ry="1.5" transform="rotate(27 1609.0 1709.4)" fill="none" stroke="#222" stroke-width="1.2"/>
<ellipse cx="1626.0" cy="1718.2" rx="3.4" ry="1.5" transform="rotate(27 1626.0 1718.2)" fill="none" stroke="#222" stroke-width="1.2"/>
<ellipse cx="1643.0" cy="1727.0" rx="3.4" ry="1.5" transform="rotate(27 1643.0 1727.0)" fill="none" stroke="#222" stroke-width="1.2"/>
<ellipse cx="1660.0" cy="1735.8" rx="3.4" ry="1.5" transform="rotate(27 1660.0 1735.8)" fill="none" stroke="#222" stroke-width="1.2"/>
<ellipse cx="1677.0" cy="1744.6" rx="3.4" ry="1.5" transform="rotate(27 1677.0 1744.6)" fill="none" stroke="#222" stroke-width="1.2"/>
<ellipse cx="1694.0" cy="1753.3" rx="3.4" ry="1.5" transform="rotate(27 1694.0 1753.3)" fill="none" stroke="#222" stroke-width="1.2"/>
<ellipse cx="1711.0" cy="1762.1" rx="3.4" ry="1.5" transform="rotate(27 1711.0 1762.1)" fill="none" stroke="#222" stroke-width="1.2"/>
<line x1="929.6" y1="1401.0" x2="1650.0" y2="1766.6" stroke="#1c1c1c" stroke-width="1.3" stroke-dasharray="12 2.5"/>
<line x1="1018.0" y1="1450.1" x2="1650.0" y2="1770.8" stroke="#1c1c1c" stroke-width="1.2" stroke-dasharray="10 4"/>
<line x1="1097.0" y1="1239.7" x2="1018.0" y2="1400.7" stroke="#1c1c1c" stroke-width="1.2" stroke-dasharray="10 2.2 2.5 2.2"/>
<line x1="1152.6" y1="1268.3" x2="1073.6" y2="1429.3" stroke="#1c1c1c" stroke-width="1.2" stroke-dasharray="10 2.2 2.5 2.2"/>
<line x1="1215.0" y1="1300.3" x2="1136.0" y2="1461.3" stroke="#1c1c1c" stroke-width="1.2" stroke-dasharray="10 2.2 2.5 2.2"/>
<line x1="1270.6" y1="1328.9" x2="1191.6" y2="1489.9" stroke="#1c1c1c" stroke-width="1.2" stroke-dasharray="10 2.2 2.5 2.2"/>
<line x1="1333.0" y1="1360.9" x2="1254.0" y2="1521.9" stroke="#1c1c1c" stroke-width="1.2" stroke-dasharray="10 2.2 2.5 2.2"/>
<line x1="1388.6" y1="1389.5" x2="1309.6" y2="1550.5" stroke="#1c1c1c" stroke-width="1.2" stroke-dasharray="10 2.2 2.5 2.2"/>
<line x1="1451.0" y1="1421.5" x2="1372.0" y2="1582.5" stroke="#1c1c1c" stroke-width="1.2" stroke-dasharray="10 2.2 2.5 2.2"/>
<line x1="1506.6" y1="1450.1" x2="1427.6" y2="1611.1" stroke="#1c1c1c" stroke-width="1.2" stroke-dasharray="10 2.2 2.5 2.2"/>
<line x1="1569.0" y1="1482.1" x2="1490.0" y2="1643.1" stroke="#1c1c1c" stroke-width="1.2" stroke-dasharray="10 2.2 2.5 2.2"/>
<line x1="1624.6" y1="1510.7" x2="1545.6" y2="1671.7" stroke="#1c1c1c" stroke-width="1.2" stroke-dasharray="10 2.2 2.5 2.2"/>
<line x1="1687.0" y1="1542.7" x2="1608.0" y2="1703.7" stroke="#1c1c1c" stroke-width="1.2" stroke-dasharray="10 2.2 2.5 2.2"/>
<line x1="1742.6" y1="1571.3" x2="1663.6" y2="1732.3" stroke="#1c1c1c" stroke-width="1.2" stroke-dasharray="10 2.2 2.5 2.2"/>
<line x1="1805.0" y1="1603.3" x2="1726.0" y2="1764.3" stroke="#1c1c1c" stroke-width="1.2" stroke-dasharray="10 2.2 2.5 2.2"/>
<line x1="1860.6" y1="1631.9" x2="1781.6" y2="1792.9" stroke="#1c1c1c" stroke-width="1.2" stroke-dasharray="10 2.2 2.5 2.2"/>
<line x1="1923.0" y1="1663.9" x2="1844.0" y2="1824.9" stroke="#1c1c1c" stroke-width="1.2" stroke-dasharray="10 2.2 2.5 2.2"/>
<line x1="1978.6" y1="1692.5" x2="1899.6" y2="1853.5" stroke="#1c1c1c" stroke-width="1.2" stroke-dasharray="10 2.2 2.5 2.2"/>
<line x1="2041.0" y1="1724.5" x2="1962.0" y2="1885.5" stroke="#1c1c1c" stroke-width="1.2" stroke-dasharray="10 2.2 2.5 2.2"/>
<line x1="2096.6" y1="1753.1" x2="2017.6" y2="1914.1" stroke="#1c1c1c" stroke-width="1.2" stroke-dasharray="10 2.2 2.5 2.2"/>
<path d="M906,836.5 Q901.5,833 904,827.5 L921.5,791.5 Q924,786.5 929,789.5 L1077,884.8 L1158.4,933.6 Q1176,944 1190,960 L1229,1004 L1235.8,1012.3" stroke="#1c1c1c" stroke-width="1.4" fill="none" stroke-dasharray="10 1.8 2.4 1.8"/>
<path d="M906,836.5 L1025.4,913.2 Q1046,927 1062,950 Q1078,976 1083.5,1004 L1087.8,1039.4" stroke="#1c1c1c" stroke-width="1.4" fill="none" stroke-dasharray="10 1.8 2.4 1.8"/>
<path d="M1235.8,1012.3 L1208,1071 Q1200,1088.5 1193,1091 Q1187,1091.5 1180,1087.3 L1087.2,1043.0" stroke="#1c1c1c" stroke-width="1.4" fill="none" stroke-dasharray="10 1.8 2.4 1.8"/>
<circle cx="1123.6" cy="1031.2" r="5.6" stroke="#1c1c1c" stroke-width="1.1" fill="none" stroke-dasharray="4 1.2"/>
<circle cx="1145.3" cy="1042.1" r="5.6" stroke="#1c1c1c" stroke-width="1.1" fill="none" stroke-dasharray="4 1.2"/>
<circle cx="1166.5" cy="1053.5" r="5.6" stroke="#1c1c1c" stroke-width="1.1" fill="none" stroke-dasharray="4 1.2"/>
<circle cx="1188.2" cy="1064.3" r="5.6" stroke="#1c1c1c" stroke-width="1.1" fill="none" stroke-dasharray="4 1.2"/>
<path d="M1084.5,1026 L1068.8,1055.6 Q1065,1063 1068,1070.5 L1074.5,1088 Q1077,1095 1073.5,1102 L1063,1122 Q1060,1127.5 1050,1129 L1040.5,1130.8 Q1031,1133.5 1026,1143.5 L1005.5,1184.5 Q1001.5,1193 1006.5,1200 L1014,1210.5 Q1017,1215.5 1014,1221.5 L945.4,1359.6" stroke="#1c1c1c" stroke-width="1.4" fill="none" stroke-dasharray="10 1.8 2.4 1.8"/>
<path d="M1070.2,1076 L1041,1131" stroke="#1c1c1c" stroke-width="1.4" fill="none" stroke-dasharray="10 1.8 2.4 1.8"/>
<path d="M1004.6,1203 L927.6,1357.6 L927.6,1383 Q923,1392 929.6,1401" stroke="#1c1c1c" stroke-width="1.4" fill="none" stroke-dasharray="12 2.5"/>
<path d="M1010.5,1209.6 L935.5,1358.6" stroke="#1c1c1c" stroke-width="1.1" fill="none" stroke-dasharray="9 3"/>
<path d="M1037.3,1144.8 L1046.5,1160 Q1049.5,1165 1047,1170 L1029.2,1201.7 L1012.9,1193.6 Z" stroke="#1c1c1c" stroke-width="1.4" fill="none" stroke-dasharray="12 2.2"/>
<g transform="translate(981.3,1244.0) rotate(27)">
<rect x="-9.1" y="-5.5" width="18.2" height="10.9" fill="#000" rx="2"/>
<rect x="-3.9" y="-9.1" width="7.8" height="18.2" fill="#000" rx="2"/>
<rect x="-11.7" y="-1.6" width="23.4" height="3.1" fill="#000"/>
<rect x="-2.6" y="-2.6" width="3.9" height="3.9" fill="#fff"/>
</g>
<g transform="translate(956.3,1297.5) rotate(27)">
<rect x="-8.4" y="-5.0" width="16.8" height="10.1" fill="#000" rx="2"/>
<rect x="-3.6" y="-8.4" width="7.2" height="16.8" fill="#000" rx="2"/>
<rect x="-10.8" y="-1.4" width="21.6" height="2.9" fill="#000"/>
<rect x="-2.4" y="-2.4" width="3.6" height="3.6" fill="#fff"/>
</g>
<g transform="translate(932.0,1347.5) rotate(27)">
<rect x="-9.1" y="-5.5" width="18.2" height="10.9" fill="#000" rx="2"/>
<rect x="-3.9" y="-9.1" width="7.8" height="18.2" fill="#000" rx="2"/>
<rect x="-11.7" y="-1.6" width="23.4" height="3.1" fill="#000"/>
<rect x="-2.6" y="-2.6" width="3.9" height="3.9" fill="#fff"/>
</g>
<line x1="975.0" y1="1256.0" x2="930.0" y2="1345.0" stroke="#333" stroke-width="2.0" stroke-dasharray="5 3"/>
<rect x="926.3" y="1372.0" width="3.4" height="12.0" fill="#000"/>
<g transform="translate(958.0,1394.0) rotate(27)">
<rect x="-3.8" y="-4.8" width="7.6" height="9.7" fill="#000" rx="3"/>
<rect x="-2.7" y="4.2" width="5.5" height="7.9" stroke="#111" stroke-width="1.3" fill="none"/>
</g>
<path d="M957.2,1414.8 L932.6,1443.4 L967.1,1462.2 L974,1461.2 L974,1442.4 L980.9,1429.6" stroke="#1c1c1c" stroke-width="1.2" fill="none" stroke-dasharray="8 2.2"/>
<path d="M948.3,1430.6 L974,1442.4" stroke="#1c1c1c" stroke-width="1.2" fill="none" stroke-dasharray="8 2.2"/>
<path d="M959,1396 L967.1,1462.2" stroke="#1c1c1c" stroke-width="1.3" fill="none"/>
<path d="M1023.3,1408.9 L1018.4,1422.7 L1052.9,1441.4 L1060.8,1428.6" stroke="#111" stroke-width="2.6" fill="none" stroke-linejoin="round"/>
<circle cx="1018.4" cy="1422.7" r="2.6" stroke="#000" stroke-width="0.5" fill="#111"/>
<circle cx="1052.9" cy="1441.4" r="2.6" stroke="#000" stroke-width="0.5" fill="#111"/>
<g transform="translate(1026.0,1429.0) rotate(27)">
<rect x="-3.4" y="-4.4" width="6.8" height="8.7" fill="#000" rx="3"/>
<rect x="-2.5" y="3.8" width="4.9" height="7.1" stroke="#111" stroke-width="1.3" fill="none"/>
</g>
<line x1="1052.9" y1="1441.4" x2="1050.0" y2="1456.2" stroke="#1c1c1c" stroke-width="1.2" stroke-dasharray="5 2"/>
<g transform="translate(1094.4,1464.1) rotate(27)">
<rect x="-3.2" y="-4.1" width="6.5" height="8.3" fill="#000" rx="3"/>
<rect x="-2.3" y="3.6" width="4.7" height="6.8" stroke="#111" stroke-width="1.3" fill="none"/>
</g>
<path d="M1139.5,1469.5 L1136,1483.9 L1171.6,1502.8 L1179.7,1490.6" stroke="#111" stroke-width="2.6" fill="none" stroke-linejoin="round"/>
<circle cx="1136.0" cy="1483.9" r="2.6" stroke="#000" stroke-width="0.5" fill="#111"/>
<circle cx="1171.6" cy="1502.8" r="2.6" stroke="#000" stroke-width="0.5" fill="#111"/>
<g transform="translate(1163.4,1498.7) rotate(27)">
<rect x="-3.4" y="-4.4" width="6.8" height="8.7" fill="#000" rx="3"/>
<rect x="-2.5" y="3.8" width="4.9" height="7.1" stroke="#111" stroke-width="1.3" fill="none"/>
</g>
<circle cx="1229.0" cy="1523.3" r="5.2" stroke="#222" stroke-width="1.4" fill="none"/>
<circle cx="1229.0" cy="1523.3" r="2.3" stroke="#444" stroke-width="1.0" fill="none"/>
<path d="M1218,1512 L1217,1527 Q1219,1534 1227,1536" stroke="#222" stroke-width="1.6" fill="none"/>
<path d="M1222,1510 L1247,1522 L1238,1530" stroke="#333" stroke-width="1.4" fill="none" stroke-dasharray="5 1.5"/>
<g transform="translate(1231.0,1537.5) rotate(27)">
<rect x="-2.9" y="-3.7" width="5.8" height="7.4" fill="#000" rx="3"/>
<rect x="-2.1" y="3.2" width="4.2" height="6.0" stroke="#111" stroke-width="1.3" fill="none"/>
</g>
<path d="M1260,1530.5 L1255,1545.5 L1262.5,1549.5" stroke="#111" stroke-width="2.8" fill="none"/>
<path d="M1296.5,1548.5 L1292,1563.5 L1285.5,1561" stroke="#111" stroke-width="2.8" fill="none"/>
<ellipse cx="1267.5" cy="1545" rx="4.2" ry="6.2" transform="rotate(20 1267.5 1545)" fill="#111"/>
<ellipse cx="1267.5" cy="1545" rx="1.2" ry="2.6" transform="rotate(20 1267.5 1545)" fill="#fff"/>
<ellipse cx="1281" cy="1551.5" rx="4.2" ry="6.2" transform="rotate(20 1281 1551.5)" fill="#111"/>
<ellipse cx="1281" cy="1551.5" rx="1.2" ry="2.6" transform="rotate(20 1281 1551.5)" fill="#fff"/>
<g transform="translate(1309.4,1576.8) rotate(27)">
<rect x="-3.1" y="-3.9" width="6.1" height="7.8" fill="#000" rx="3"/>
<rect x="-2.2" y="3.4" width="4.4" height="6.4" stroke="#111" stroke-width="1.3" fill="none"/>
</g>
<g transform="translate(1349.0,1598.5) rotate(27)">
<rect x="-4.1" y="-5.3" width="8.3" height="10.6" fill="#000" rx="3"/>
<rect x="-3.0" y="4.6" width="6.0" height="8.6" stroke="#111" stroke-width="1.3" fill="none"/>
</g>
<line x1="1349.0" y1="1605.0" x2="1341.4" y2="1625.6" stroke="#111" stroke-width="1.6"/>
<line x1="1359.0" y1="1583.0" x2="1354.0" y2="1594.0" stroke="#222" stroke-width="1.6"/>
<path d="M1376.5,1592 L1371.9,1605.8 L1407,1624 L1414.6,1610.4" stroke="#111" stroke-width="2.6" fill="none" stroke-linejoin="round"/>
<circle cx="1371.9" cy="1605.8" r="2.6" stroke="#000" stroke-width="0.5" fill="#111"/>
<circle cx="1407.0" cy="1624.0" r="2.6" stroke="#000" stroke-width="0.5" fill="#111"/>
<g transform="translate(1416.0,1633.2) rotate(27)">
<rect x="-3.2" y="-4.1" width="6.5" height="8.3" fill="#000" rx="3"/>
<rect x="-2.3" y="3.6" width="4.7" height="6.8" stroke="#111" stroke-width="1.3" fill="none"/>
</g>
<path d="M1493.8,1653 L1490.8,1668.3 L1524.3,1685 L1532,1671.3" stroke="#111" stroke-width="2.6" fill="none" stroke-linejoin="round"/>
<circle cx="1490.8" cy="1668.3" r="2.6" stroke="#000" stroke-width="0.5" fill="#111"/>
<circle cx="1524.3" cy="1685.0" r="2.6" stroke="#000" stroke-width="0.5" fill="#111"/>
<g transform="translate(1486.2,1666.8) rotate(27)">
<rect x="-3.4" y="-4.4" width="6.8" height="8.7" fill="#000" rx="3"/>
<rect x="-2.5" y="3.8" width="4.9" height="7.1" stroke="#111" stroke-width="1.3" fill="none"/>
</g>
<g transform="translate(1553.3,1703.4) rotate(27)">
<rect x="-3.2" y="-4.1" width="6.5" height="8.3" fill="#000" rx="3"/>
<rect x="-2.3" y="3.6" width="4.7" height="6.8" stroke="#111" stroke-width="1.3" fill="none"/>
</g>
<path d="M1611.2,1711 L1607.6,1727.7 L1643.2,1744.5 L1650.9,1732.3" stroke="#111" stroke-width="2.6" fill="none" stroke-linejoin="round"/>
<circle cx="1607.6" cy="1727.7" r="2.6" stroke="#000" stroke-width="0.5" fill="#111"/>
<circle cx="1643.2" cy="1744.5" r="2.6" stroke="#000" stroke-width="0.5" fill="#111"/>
<g transform="translate(1621.9,1736.9) rotate(27)">
<rect x="-3.4" y="-4.4" width="6.8" height="8.7" fill="#000" rx="3"/>
<rect x="-2.5" y="3.8" width="4.9" height="7.1" stroke="#111" stroke-width="1.3" fill="none"/>
</g>
<path d="M2250,1534.6 L2263.8,1516.1 L2359.4,1556.2 Q2376,1562 2380,1571 Q2382.5,1578 2380,1584 L2357.8,1647.1 L2337.8,1670.2 L2324,1686.5 Q2319,1689 2316.5,1684" stroke="#1c1c1c" stroke-width="1.4" fill="none" stroke-dasharray="10 1.8 2.4 1.8"/>
<line x1="2250.0" y1="1534.6" x2="2229.9" y2="1585.2" stroke="#1c1c1c" stroke-width="1.4" stroke-dasharray="10 1.8 2.4 1.8"/>
<line x1="2251.5" y1="1551.5" x2="2334.7" y2="1593.1" stroke="#1c1c1c" stroke-width="1.6" stroke-dasharray="8 2"/>
<line x1="2276.1" y1="1523.8" x2="2266.5" y2="1551.5" stroke="#1c1c1c" stroke-width="1.1" stroke-dasharray="10 1.8 2.4 1.8"/>
<line x1="2256.5" y1="1521.0" x2="2247.5" y2="1547.0" stroke="#1c1c1c" stroke-width="1.1" stroke-dasharray="5 2"/>
<line x1="2278.0" y1="1546.0" x2="2296.0" y2="1573.0" stroke="#1c1c1c" stroke-width="1.1"/>
<line x1="2337.8" y1="1585.4" x2="2379.0" y2="1568.0" stroke="#1c1c1c" stroke-width="1.2" stroke-dasharray="10 1.8 2.4 1.8"/>
<line x1="2352.0" y1="1555.0" x2="2340.0" y2="1583.0" stroke="#1c1c1c" stroke-width="1.0" stroke-dasharray="6 2"/>
<line x1="2359.4" y1="1556.5" x2="2346.0" y2="1586.0" stroke="#1c1c1c" stroke-width="1.0" stroke-dasharray="6 2"/>
<ellipse cx="2285.4" cy="1542.6" rx="7.6" ry="6.0" transform="rotate(25 2285.4 1542.6)" fill="#111"/>
<circle cx="2280.9" cy="1541.1" r="3.4" stroke="#000" stroke-width="0.5" fill="#111"/>
<circle cx="2286.9" cy="1545.1" r="1.5" stroke="#fff" stroke-width="0.5" fill="#fff"/>
<circle cx="2286.4" cy="1539.6" r="8.5" stroke="#444" stroke-width="1.0" fill="none" stroke-dasharray="4 2"/>
<ellipse cx="2328.2" cy="1563.0" rx="7.6" ry="6.0" transform="rotate(25 2328.2 1563.0)" fill="#111"/>
<circle cx="2323.7" cy="1561.5" r="3.4" stroke="#000" stroke-width="0.5" fill="#111"/>
<circle cx="2329.7" cy="1565.5" r="1.5" stroke="#fff" stroke-width="0.5" fill="#fff"/>
<circle cx="2329.2" cy="1560.0" r="8.5" stroke="#444" stroke-width="1.0" fill="none" stroke-dasharray="4 2"/>
<line x1="2337.0" y1="1585.4" x2="2315.6" y2="1676.0" stroke="#111" stroke-width="5.4" stroke-dasharray="7 1.6"/>
<line x1="2336.6" y1="1590.0" x2="2316.0" y2="1674.0" stroke="#fff" stroke-width="1.2" stroke-dasharray="2 4"/>
<line x1="2335.5" y1="1601.0" x2="2288.5" y2="1753.4" stroke="#111" stroke-width="1.6" stroke-dasharray="9 2.5"/>
<line x1="2316.2" y1="1673.3" x2="2292.5" y2="1753.4" stroke="#1c1c1c" stroke-width="1.3" stroke-dasharray="9 3"/>
<line x1="2311.0" y1="1673.3" x2="2286.0" y2="1753.4" stroke="#1c1c1c" stroke-width="1.1" stroke-dasharray="8 3"/>
<line x1="2337.8" y1="1671.7" x2="2315.0" y2="1755.0" stroke="#1c1c1c" stroke-width="1.2" stroke-dasharray="12 3 3 3"/>
<path d="M2234.5,1636.3 L2246.9,1674.8 L2262.3,1648.6" stroke="#1c1c1c" stroke-width="1.2" fill="none" stroke-dasharray="9 2.5"/>
<path d="M2246.9,1674.8 L2223.7,1725.7 L2183.7,1739.6" stroke="#1c1c1c" stroke-width="1.2" fill="none" stroke-dasharray="9 2.5"/>
<path d="M2223.7,1725.7 L2208.3,1753.4" stroke="#1c1c1c" stroke-width="1.2" fill="none" stroke-dasharray="9 2.5"/>
</g>
<g id="leaders">
<path d="M1387.0,64.3 L1416.5,64.3 L1419.0,69.7 L1421.5,64.3 L1456.5,64.3 L1459.0,69.7 L1461.5,64.3 L1497.0,64.3" stroke="#000" stroke-width="2.0" fill="none" stroke-linejoin="miter"/>
<line x1="1387.5" y1="64.3" x2="1330.5" y2="245.8" stroke="#111" stroke-width="1.3"/>
<line x1="1330.5" y1="245.8" x2="1254.0" y2="472.5" stroke="#111" stroke-width="1.3"/>
<line x1="1330.5" y1="245.8" x2="1339.5" y2="245.8" stroke="#111" stroke-width="1.3"/>
<path d="M1639.5,66.0 L1673.5,66.0 L1676.0,71.4 L1678.5,66.0 L1708.3,66.0" stroke="#000" stroke-width="2.0" fill="none" stroke-linejoin="miter"/>
<line x1="1708.3" y1="66.0" x2="1743.2" y2="245.5" stroke="#111" stroke-width="1.3"/>
<line x1="1743.2" y1="245.5" x2="1785.5" y2="460.0" stroke="#111" stroke-width="1.3"/>
<line x1="1743.2" y1="245.5" x2="1749.5" y2="245.5" stroke="#111" stroke-width="1.3"/>
<path d="M1486.0,896.2 L1513.5,896.2 L1516.0,901.6 L1518.5,896.2 L1552.0,896.2" stroke="#000" stroke-width="2.0" fill="none" stroke-linejoin="miter"/>
<line x1="1486.0" y1="896.2" x2="1318.0" y2="616.0" stroke="#111" stroke-width="1.3"/>
<path d="M261.5,932.0 L295.3,932.0 L297.8,937.4 L300.3,932.0 L335.1,932.0 L337.6,937.4 L340.1,932.0 L369.3,932.0" stroke="#000" stroke-width="2.0" fill="none" stroke-linejoin="miter"/>
<line x1="369.3" y1="932.0" x2="759.0" y2="577.0" stroke="#111" stroke-width="1.3"/>
<path d="M435.0,923.8 L468.7,923.8 L471.2,929.2 L473.7,923.8 L508.7,923.8 L511.2,929.2 L513.7,923.8 L543.2,923.8" stroke="#000" stroke-width="2.0" fill="none" stroke-linejoin="miter"/>
<line x1="543.2" y1="923.8" x2="752.0" y2="611.0" stroke="#111" stroke-width="1.3"/>
<path d="M593.7,924.0 L623.0,924.0" stroke="#000" stroke-width="2.0" fill="none" stroke-linejoin="miter"/>
<line x1="623.0" y1="924.0" x2="771.0" y2="620.0" stroke="#111" stroke-width="1.3"/>
<path d="M682.2,922.2 L711.3,922.2" stroke="#000" stroke-width="2.0" fill="none" stroke-linejoin="miter"/>
<line x1="711.3" y1="922.2" x2="788.0" y2="624.0" stroke="#111" stroke-width="1.3"/>
<path d="M323.5,1224.2 L352.4,1224.2 L354.9,1229.6 L357.4,1224.2 L391.6,1224.2 L394.1,1229.6 L396.6,1224.2 L431.1,1224.2 L433.6,1229.6 L436.1,1224.2 L470.0,1224.2" stroke="#000" stroke-width="2.0" fill="none" stroke-linejoin="miter"/>
<line x1="470.0" y1="1224.2" x2="957.0" y2="1392.5" stroke="#111" stroke-width="1.3"/>
</g>
<g id="labels">
<text x="1394.5" y="60.3" font-size="21.6" font-weight="bold" fill="#000" textLength="11.0" lengthAdjust="spacingAndGlyphs">1</text>
<text x="1434.5" y="58.8" font-size="21.6" font-weight="bold" fill="#000" textLength="12.0" lengthAdjust="spacingAndGlyphs">2</text>
<text x="1474.5" y="59.2" font-size="21.6" font-weight="bold" fill="#000" textLength="12.0" lengthAdjust="spacingAndGlyphs">3</text>
<text x="1649.0" y="61.4" font-size="21.6" font-weight="bold" fill="#000" textLength="14.0" lengthAdjust="spacingAndGlyphs">4</text>
<text x="1687.0" y="61.4" font-size="21.6" font-weight="bold" fill="#000" textLength="11.5" lengthAdjust="spacingAndGlyphs">5</text>
<text x="1492.0" y="890.0" font-size="21.6" font-weight="bold" fill="#000" textLength="10.5" lengthAdjust="spacingAndGlyphs">7</text>
<text x="1532.5" y="889.8" font-size="21.6" font-weight="bold" fill="#000" textLength="11.5" lengthAdjust="spacingAndGlyphs">6</text>
<text x="265.0" y="927.8" font-size="21.6" font-weight="bold" fill="#000" textLength="24.3" lengthAdjust="spacingAndGlyphs">15</text>
<text x="305.4" y="927.8" font-size="21.6" font-weight="bold" fill="#000" textLength="24.8" lengthAdjust="spacingAndGlyphs">14</text>
<text x="343.2" y="927.8" font-size="21.6" font-weight="bold" fill="#000" textLength="24.0" lengthAdjust="spacingAndGlyphs">13</text>
<text x="440.8" y="919.3" font-size="21.6" font-weight="bold" fill="#000" textLength="23.5" lengthAdjust="spacingAndGlyphs">12</text>
<text x="479.8" y="919.3" font-size="21.6" font-weight="bold" fill="#000" textLength="21.6" lengthAdjust="spacingAndGlyphs">11</text>
<text x="516.4" y="919.3" font-size="21.6" font-weight="bold" fill="#000" textLength="24.0" lengthAdjust="spacingAndGlyphs">10</text>
<text x="603.0" y="918.5" font-size="21.6" font-weight="bold" fill="#000" textLength="12.0" lengthAdjust="spacingAndGlyphs">9</text>
<text x="692.0" y="918.2" font-size="21.6" font-weight="bold" fill="#000" textLength="12.0" lengthAdjust="spacingAndGlyphs">8</text>
<text x="328.3" y="1217.6" font-size="21.6" font-weight="bold" fill="#000" textLength="13.0" lengthAdjust="spacingAndGlyphs">4</text>
<text x="319.5" y="1217.6" font-size="21" font-weight="normal" fill="#222">(</text>
<text x="345.5" y="1217.6" font-size="21" font-weight="normal" fill="#222">)</text>
<text x="363.2" y="1216.2" font-size="21.6" font-weight="bold" fill="#000" textLength="24.0" lengthAdjust="spacingAndGlyphs">16</text>
<text x="402.4" y="1217.1" font-size="21.6" font-weight="bold" fill="#000" textLength="23.4" lengthAdjust="spacingAndGlyphs">17</text>
<text x="439.8" y="1218.3" font-size="21.6" font-weight="bold" fill="#000" textLength="24.4" lengthAdjust="spacingAndGlyphs">18</text>
</g>
<g id="watermark">
<text x="1021.3" y="929" font-size="79.5" font-weight="normal" fill="#fff" stroke="#000" stroke-width="2.5" stroke-linejoin="round" textLength="518.5" lengthAdjust="spacingAndGlyphs">woooyeah.com</text>
<text x="1043.2" y="914.3" font-size="42.8" font-weight="normal" fill="#1f72c4" textLength="475.5" lengthAdjust="spacingAndGlyphs">www.yongyuanzzd.com</text>
</g>
</svg>
</body></html>
